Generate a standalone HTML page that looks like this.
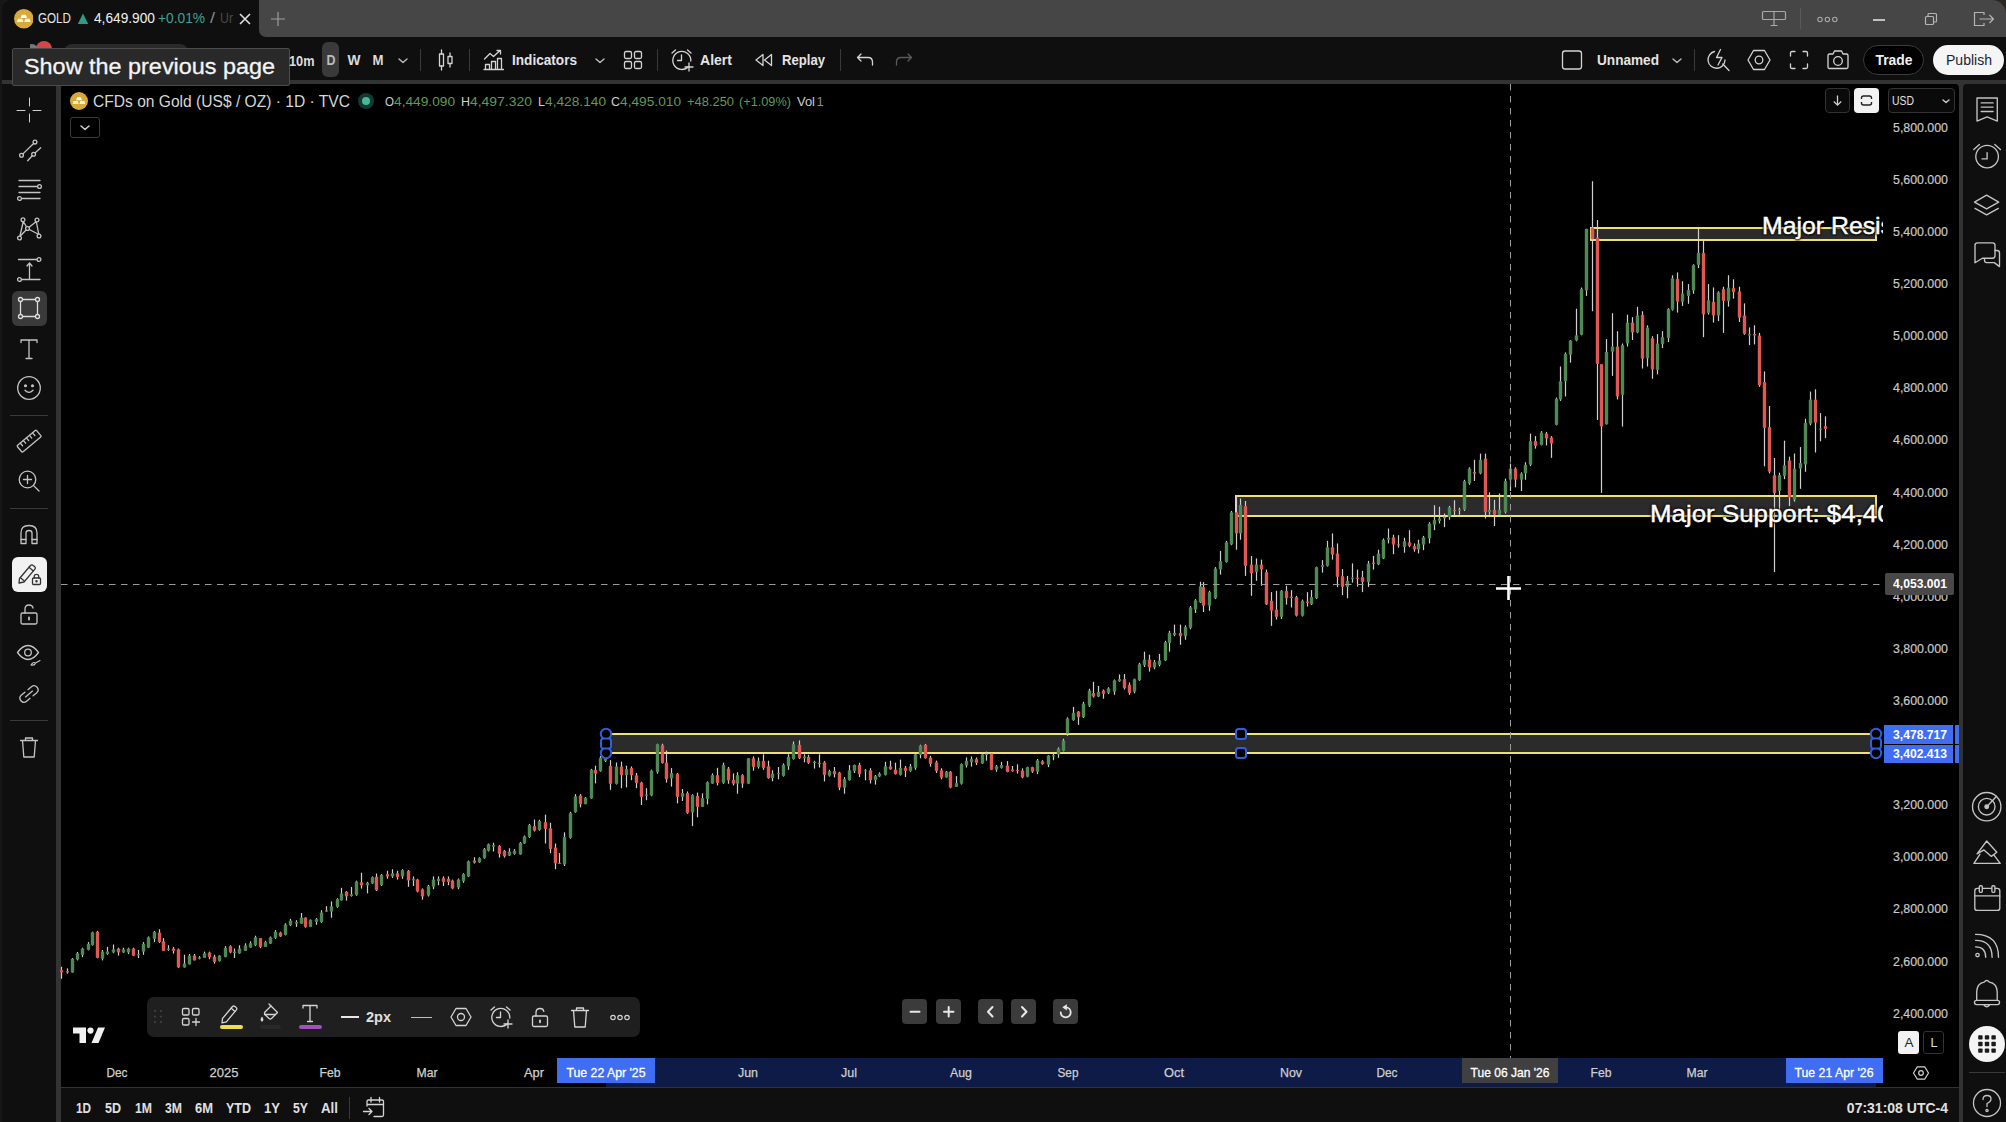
<!DOCTYPE html>
<html><head><meta charset="utf-8"><title>GOLD chart</title><style>
html,body{margin:0;padding:0;background:#000;}
body{width:2006px;height:1122px;position:relative;overflow:hidden;font-family:"Liberation Sans",sans-serif;}
div,svg,span.t{position:absolute;}
span.t{white-space:nowrap;}
</style></head><body>
<div style="left:0px;top:0px;width:2006px;height:37px;background:#464646;"></div>
<div style="left:0px;top:37px;width:2006px;height:44px;background:#0f0f0f;"></div>
<div style="left:0px;top:80px;width:2006px;height:12px;background:#333;"></div>
<div style="left:0px;top:84px;width:56px;height:1038px;background:#0f0f0f;"></div>
<div style="left:56px;top:84px;width:4.7px;height:1038px;background:#333;"></div>
<div style="left:1959px;top:84px;width:4.3px;height:1038px;background:#333;"></div>
<div style="left:1963.3px;top:84px;width:42.7px;height:1038px;background:#0f0f0f;border-radius:4px 0 0 0;"></div>
<div style="left:60.7px;top:84px;width:1898.3px;height:1004px;background:#000;border-radius:4px 4px 0 0;"></div>
<div style="left:60.7px;top:1087px;width:1898.3px;height:1px;background:#333;"></div>
<div style="left:60.7px;top:1088px;width:1898.3px;height:34px;background:#0f0f0f;"></div>
<div style="left:0px;top:0px;width:14px;height:14px;background:#181818;"></div>
<div style="left:2px;top:0px;width:257px;height:37px;background:#0f0f0f;border-radius:9px 0 0 0;"></div>
<div style="left:0px;top:0px;width:2.2px;height:1122px;background:#161616;"></div>
<div style="left:259px;top:30px;width:8px;height:7px;background:#0f0f0f;"></div>
<div style="left:259px;top:23px;width:14px;height:14px;background:#464646;border-radius:0 0 0 7px;"></div>
<div style="left:1990px;top:0px;width:16px;height:16px;background:#2a2623;"></div>
<div style="left:1978px;top:0px;width:28px;height:28px;background:#464646;border-radius:0 14px 0 0;"></div>
<div style="left:606px;top:1057.5px;width:1270px;height:29.5px;background:#0e1b46;"></div>
<div style="left:557px;top:1057.5px;width:98px;height:25.5px;background:#3f6ef2;"></div>
<div style="left:1786px;top:1057.5px;width:97px;height:25.5px;background:#3f6ef2;"></div>
<div style="left:1462px;top:1057.5px;width:96px;height:25.5px;background:#404040;"></div>
<div style="left:1591px;top:228.4px;width:285px;height:11.400000000000006px;background:#2b2b2b;"></div>
<div style="left:1591px;top:227.4px;width:285px;height:2px;background:#efe074;"></div>
<div style="left:1591px;top:238.8px;width:285px;height:2px;background:#efe074;"></div>
<div style="left:1590px;top:227.4px;width:2px;height:13.400000000000006px;background:#efe074;"></div>
<div style="left:1875px;top:227.4px;width:2px;height:13.400000000000006px;background:#efe074;"></div>
<div style="left:1236px;top:496px;width:640px;height:20px;background:#2b2b2b;"></div>
<div style="left:1236px;top:495px;width:640px;height:2px;background:#efe074;"></div>
<div style="left:1236px;top:515px;width:640px;height:2px;background:#efe074;"></div>
<div style="left:1235px;top:495px;width:2px;height:22px;background:#efe074;"></div>
<div style="left:1875px;top:495px;width:2px;height:22px;background:#efe074;"></div>
<div style="left:606px;top:734px;width:1270px;height:19px;background:#2b2b2b;"></div>
<div style="left:606px;top:733px;width:1270px;height:2px;background:#efe074;"></div>
<div style="left:606px;top:752px;width:1270px;height:2px;background:#efe074;"></div>
<svg style="left:0;top:0" width="2006" height="1122" viewBox="0 0 2006 1122" shape-rendering="auto"><path d="M61.5 966.8V978.8" stroke="#cfcfcf" stroke-width="1.2"/><rect x="59.8" y="970.0" width="3.4" height="2.4" rx="1" fill="#e05853"/><path d="M67.5 968.4V973.7" stroke="#cfcfcf" stroke-width="1.2"/><rect x="65.8" y="971.1" width="3.4" height="1.3" rx="1" fill="#e05853"/><path d="M72.5 958.0V972.7" stroke="#cfcfcf" stroke-width="1.2"/><rect x="70.8" y="958.8" width="3.4" height="13.6" rx="1" fill="#4f8a54"/><path d="M77.5 952.0V960.4" stroke="#cfcfcf" stroke-width="1.2"/><rect x="75.8" y="953.2" width="3.4" height="6.4" rx="1" fill="#4f8a54"/><path d="M82.5 947.7V957.2" stroke="#cfcfcf" stroke-width="1.2"/><rect x="80.8" y="948.5" width="3.4" height="6.4" rx="1" fill="#4f8a54"/><path d="M88.5 942.1V950.4" stroke="#cfcfcf" stroke-width="1.2"/><rect x="86.8" y="943.7" width="3.4" height="6.4" rx="1" fill="#4f8a54"/><path d="M92.5 931.7V945.6" stroke="#cfcfcf" stroke-width="1.2"/><rect x="90.8" y="932.2" width="3.4" height="13.1" rx="1" fill="#4f8a54"/><path d="M97.5 930.9V958.3" stroke="#cfcfcf" stroke-width="1.2"/><rect x="95.8" y="931.7" width="3.4" height="26.3" rx="1" fill="#e05853"/><path d="M102.5 950.0V960.4" stroke="#cfcfcf" stroke-width="1.2"/><rect x="100.8" y="951.6" width="3.4" height="7.2" rx="1" fill="#4f8a54"/><path d="M107.5 946.9V954.8" stroke="#cfcfcf" stroke-width="1.2"/><rect x="105.8" y="951.6" width="3.4" height="2.4" rx="1" fill="#4f8a54"/><path d="M113.5 944.5V953.2" stroke="#cfcfcf" stroke-width="1.2"/><rect x="111.8" y="949.3" width="3.4" height="3.2" rx="1" fill="#4f8a54"/><path d="M118.5 947.7V955.6" stroke="#cfcfcf" stroke-width="1.2"/><rect x="116.8" y="948.5" width="3.4" height="4.0" rx="1" fill="#e05853"/><path d="M123.5 947.7V952.9" stroke="#cfcfcf" stroke-width="1.2"/><rect x="121.8" y="949.3" width="3.4" height="3.2" rx="1" fill="#4f8a54"/><path d="M128.5 947.7V954.0" stroke="#cfcfcf" stroke-width="1.2"/><rect x="126.8" y="948.5" width="3.4" height="4.0" rx="1" fill="#4f8a54"/><path d="M133.5 947.7V956.1" stroke="#cfcfcf" stroke-width="1.2"/><rect x="131.8" y="948.5" width="3.4" height="7.2" rx="1" fill="#e05853"/><path d="M138.5 950.0V958.0" stroke="#cfcfcf" stroke-width="1.2"/><rect x="136.8" y="954.0" width="3.4" height="1.2" rx="1" fill="#4f8a54"/><path d="M143.5 942.1V954.8" stroke="#cfcfcf" stroke-width="1.2"/><rect x="141.8" y="943.7" width="3.4" height="8.0" rx="1" fill="#4f8a54"/><path d="M148.5 936.5V948.1" stroke="#cfcfcf" stroke-width="1.2"/><rect x="146.8" y="937.3" width="3.4" height="10.4" rx="1" fill="#4f8a54"/><path d="M154.5 930.9V942.1" stroke="#cfcfcf" stroke-width="1.2"/><rect x="152.8" y="931.7" width="3.4" height="7.2" rx="1" fill="#4f8a54"/><path d="M159.5 929.3V942.9" stroke="#cfcfcf" stroke-width="1.2"/><rect x="157.8" y="932.5" width="3.4" height="9.6" rx="1" fill="#e05853"/><path d="M163.5 938.1V950.8" stroke="#cfcfcf" stroke-width="1.2"/><rect x="161.8" y="941.3" width="3.4" height="9.6" rx="1" fill="#e05853"/><path d="M168.5 945.3V950.8" stroke="#cfcfcf" stroke-width="1.2"/><rect x="166.8" y="948.5" width="3.4" height="1.6" rx="1" fill="#4f8a54"/><path d="M173.5 946.9V953.6" stroke="#cfcfcf" stroke-width="1.2"/><rect x="171.8" y="948.5" width="3.4" height="2.4" rx="1" fill="#e05853"/><path d="M178.5 948.5V967.9" stroke="#cfcfcf" stroke-width="1.2"/><rect x="176.8" y="949.3" width="3.4" height="18.3" rx="1" fill="#e05853"/><path d="M184.5 954.8V967.6" stroke="#cfcfcf" stroke-width="1.2"/><rect x="182.8" y="963.6" width="3.4" height="4.0" rx="1" fill="#4f8a54"/><path d="M189.5 954.0V964.4" stroke="#cfcfcf" stroke-width="1.2"/><rect x="187.8" y="955.6" width="3.4" height="8.8" rx="1" fill="#4f8a54"/><path d="M194.5 954.0V960.4" stroke="#cfcfcf" stroke-width="1.2"/><rect x="192.8" y="955.6" width="3.4" height="4.8" rx="1" fill="#e05853"/><path d="M199.5 956.1V959.3" stroke="#cfcfcf" stroke-width="1.2"/><rect x="197.8" y="957.2" width="3.4" height="1.6" rx="1" fill="#4f8a54"/><path d="M204.5 951.6V958.0" stroke="#cfcfcf" stroke-width="1.2"/><rect x="202.8" y="953.2" width="3.4" height="4.8" rx="1" fill="#4f8a54"/><path d="M209.5 951.6V959.3" stroke="#cfcfcf" stroke-width="1.2"/><rect x="207.8" y="952.4" width="3.4" height="4.8" rx="1" fill="#e05853"/><path d="M214.5 954.8V963.6" stroke="#cfcfcf" stroke-width="1.2"/><rect x="212.8" y="956.4" width="3.4" height="5.6" rx="1" fill="#e05853"/><path d="M219.5 955.2V961.5" stroke="#cfcfcf" stroke-width="1.2"/><rect x="217.8" y="955.6" width="3.4" height="5.6" rx="1" fill="#4f8a54"/><path d="M225.5 946.1V957.2" stroke="#cfcfcf" stroke-width="1.2"/><rect x="223.8" y="947.7" width="3.4" height="9.6" rx="1" fill="#4f8a54"/><path d="M230.5 945.3V953.2" stroke="#cfcfcf" stroke-width="1.2"/><rect x="228.8" y="946.1" width="3.4" height="6.4" rx="1" fill="#e05853"/><path d="M234.5 948.5V958.0" stroke="#cfcfcf" stroke-width="1.2"/><rect x="232.8" y="951.6" width="3.4" height="1.6" rx="1" fill="#4f8a54"/><path d="M239.5 945.3V953.6" stroke="#cfcfcf" stroke-width="1.2"/><rect x="237.8" y="948.5" width="3.4" height="5.1" rx="1" fill="#4f8a54"/><path d="M245.5 943.3V950.8" stroke="#cfcfcf" stroke-width="1.2"/><rect x="243.8" y="945.3" width="3.4" height="5.6" rx="1" fill="#4f8a54"/><path d="M250.5 941.3V947.7" stroke="#cfcfcf" stroke-width="1.2"/><rect x="248.8" y="942.9" width="3.4" height="4.8" rx="1" fill="#4f8a54"/><path d="M255.5 935.7V946.1" stroke="#cfcfcf" stroke-width="1.2"/><rect x="253.8" y="937.3" width="3.4" height="8.0" rx="1" fill="#4f8a54"/><path d="M260.5 938.1V948.1" stroke="#cfcfcf" stroke-width="1.2"/><rect x="258.8" y="938.1" width="3.4" height="8.8" rx="1" fill="#e05853"/><path d="M265.5 940.8V946.9" stroke="#cfcfcf" stroke-width="1.2"/><rect x="263.8" y="942.1" width="3.4" height="4.8" rx="1" fill="#4f8a54"/><path d="M270.5 936.5V944.0" stroke="#cfcfcf" stroke-width="1.2"/><rect x="268.8" y="937.3" width="3.4" height="6.4" rx="1" fill="#4f8a54"/><path d="M275.5 930.1V938.9" stroke="#cfcfcf" stroke-width="1.2"/><rect x="273.8" y="931.7" width="3.4" height="6.4" rx="1" fill="#4f8a54"/><path d="M280.5 931.7V937.0" stroke="#cfcfcf" stroke-width="1.2"/><rect x="278.8" y="932.5" width="3.4" height="4.0" rx="1" fill="#e05853"/><path d="M285.5 923.3V935.4" stroke="#cfcfcf" stroke-width="1.2"/><rect x="283.8" y="924.5" width="3.4" height="10.4" rx="1" fill="#4f8a54"/><path d="M290.5 918.9V926.1" stroke="#cfcfcf" stroke-width="1.2"/><rect x="288.8" y="920.5" width="3.4" height="4.8" rx="1" fill="#4f8a54"/><path d="M296.5 920.2V926.9" stroke="#cfcfcf" stroke-width="1.2"/><rect x="294.8" y="922.1" width="3.4" height="1.6" rx="1" fill="#4f8a54"/><path d="M301.5 913.0V923.7" stroke="#cfcfcf" stroke-width="1.2"/><rect x="299.8" y="917.4" width="3.4" height="6.4" rx="1" fill="#4f8a54"/><path d="M305.5 917.4V927.7" stroke="#cfcfcf" stroke-width="1.2"/><rect x="303.8" y="917.4" width="3.4" height="9.6" rx="1" fill="#e05853"/><path d="M310.5 919.4V927.1" stroke="#cfcfcf" stroke-width="1.2"/><rect x="308.8" y="919.7" width="3.4" height="7.2" rx="1" fill="#4f8a54"/><path d="M316.5 918.1V924.8" stroke="#cfcfcf" stroke-width="1.2"/><rect x="314.8" y="918.9" width="3.4" height="3.2" rx="1" fill="#4f8a54"/><path d="M321.5 910.2V922.9" stroke="#cfcfcf" stroke-width="1.2"/><rect x="319.8" y="912.6" width="3.4" height="9.6" rx="1" fill="#4f8a54"/><path d="M326.5 906.2V911.8" stroke="#cfcfcf" stroke-width="1.2"/><rect x="324.8" y="910.2" width="3.4" height="1.6" rx="1" fill="#4f8a54"/><path d="M331.5 901.4V917.7" stroke="#cfcfcf" stroke-width="1.2"/><rect x="329.8" y="906.2" width="3.4" height="5.6" rx="1" fill="#4f8a54"/><path d="M337.5 898.2V907.8" stroke="#cfcfcf" stroke-width="1.2"/><rect x="335.8" y="899.0" width="3.4" height="8.0" rx="1" fill="#4f8a54"/><path d="M341.5 887.8V900.6" stroke="#cfcfcf" stroke-width="1.2"/><rect x="339.8" y="893.4" width="3.4" height="7.2" rx="1" fill="#4f8a54"/><path d="M346.5 891.0V900.6" stroke="#cfcfcf" stroke-width="1.2"/><rect x="344.8" y="891.8" width="3.4" height="4.8" rx="1" fill="#e05853"/><path d="M351.5 887.0V896.6" stroke="#cfcfcf" stroke-width="1.2"/><rect x="349.8" y="894.2" width="3.4" height="1.9" rx="1" fill="#4f8a54"/><path d="M356.5 880.7V895.8" stroke="#cfcfcf" stroke-width="1.2"/><rect x="354.8" y="881.5" width="3.4" height="13.6" rx="1" fill="#4f8a54"/><path d="M361.5 872.7V888.6" stroke="#cfcfcf" stroke-width="1.2"/><rect x="359.8" y="882.3" width="3.4" height="3.2" rx="1" fill="#e05853"/><path d="M367.5 881.8V893.4" stroke="#cfcfcf" stroke-width="1.2"/><rect x="365.8" y="882.7" width="3.4" height="2.7" rx="1" fill="#4f8a54"/><path d="M372.5 876.4V883.9" stroke="#cfcfcf" stroke-width="1.2"/><rect x="370.8" y="877.0" width="3.4" height="6.4" rx="1" fill="#4f8a54"/><path d="M376.5 873.5V891.0" stroke="#cfcfcf" stroke-width="1.2"/><rect x="374.8" y="876.7" width="3.4" height="13.6" rx="1" fill="#e05853"/><path d="M381.5 874.0V886.0" stroke="#cfcfcf" stroke-width="1.2"/><rect x="379.8" y="874.8" width="3.4" height="10.4" rx="1" fill="#4f8a54"/><path d="M387.5 870.8V878.8" stroke="#cfcfcf" stroke-width="1.2"/><rect x="385.8" y="874.0" width="3.4" height="2.4" rx="1" fill="#e05853"/><path d="M392.5 869.2V878.0" stroke="#cfcfcf" stroke-width="1.2"/><rect x="390.8" y="873.2" width="3.4" height="3.2" rx="1" fill="#4f8a54"/><path d="M397.5 870.8V879.6" stroke="#cfcfcf" stroke-width="1.2"/><rect x="395.8" y="873.2" width="3.4" height="4.0" rx="1" fill="#e05853"/><path d="M402.5 869.2V878.8" stroke="#cfcfcf" stroke-width="1.2"/><rect x="400.8" y="870.0" width="3.4" height="6.4" rx="1" fill="#4f8a54"/><path d="M408.5 870.0V886.8" stroke="#cfcfcf" stroke-width="1.2"/><rect x="406.8" y="870.8" width="3.4" height="9.6" rx="1" fill="#e05853"/><path d="M413.5 876.4V886.0" stroke="#cfcfcf" stroke-width="1.2"/><rect x="411.8" y="878.8" width="3.4" height="1.6" rx="1" fill="#4f8a54"/><path d="M417.5 878.8V892.4" stroke="#cfcfcf" stroke-width="1.2"/><rect x="415.8" y="879.6" width="3.4" height="12.0" rx="1" fill="#e05853"/><path d="M422.5 888.4V899.7" stroke="#cfcfcf" stroke-width="1.2"/><rect x="420.8" y="889.2" width="3.4" height="7.2" rx="1" fill="#e05853"/><path d="M428.5 884.9V896.5" stroke="#cfcfcf" stroke-width="1.2"/><rect x="426.8" y="886.0" width="3.4" height="9.6" rx="1" fill="#4f8a54"/><path d="M433.5 876.4V889.2" stroke="#cfcfcf" stroke-width="1.2"/><rect x="431.8" y="879.6" width="3.4" height="7.2" rx="1" fill="#4f8a54"/><path d="M438.5 876.4V885.2" stroke="#cfcfcf" stroke-width="1.2"/><rect x="436.8" y="878.8" width="3.4" height="2.4" rx="1" fill="#4f8a54"/><path d="M443.5 876.4V886.0" stroke="#cfcfcf" stroke-width="1.2"/><rect x="441.8" y="878.0" width="3.4" height="4.0" rx="1" fill="#e05853"/><path d="M448.5 876.4V885.2" stroke="#cfcfcf" stroke-width="1.2"/><rect x="446.8" y="878.8" width="3.4" height="3.2" rx="1" fill="#e05853"/><path d="M452.5 879.6V889.2" stroke="#cfcfcf" stroke-width="1.2"/><rect x="450.8" y="880.4" width="3.4" height="8.0" rx="1" fill="#e05853"/><path d="M458.5 878.5V889.2" stroke="#cfcfcf" stroke-width="1.2"/><rect x="456.8" y="879.6" width="3.4" height="8.0" rx="1" fill="#4f8a54"/><path d="M463.5 873.2V882.8" stroke="#cfcfcf" stroke-width="1.2"/><rect x="461.8" y="874.0" width="3.4" height="7.2" rx="1" fill="#4f8a54"/><path d="M468.5 860.5V876.9" stroke="#cfcfcf" stroke-width="1.2"/><rect x="466.8" y="861.2" width="3.4" height="15.2" rx="1" fill="#4f8a54"/><path d="M474.5 857.2V863.6" stroke="#cfcfcf" stroke-width="1.2"/><rect x="472.8" y="860.4" width="3.4" height="2.4" rx="1" fill="#e05853"/><path d="M479.5 857.3V862.8" stroke="#cfcfcf" stroke-width="1.2"/><rect x="477.8" y="858.0" width="3.4" height="4.5" rx="1" fill="#4f8a54"/><path d="M484.5 848.0V858.8" stroke="#cfcfcf" stroke-width="1.2"/><rect x="482.8" y="849.1" width="3.4" height="9.1" rx="1" fill="#4f8a54"/><path d="M488.5 843.5V851.5" stroke="#cfcfcf" stroke-width="1.2"/><rect x="486.8" y="844.3" width="3.4" height="6.4" rx="1" fill="#4f8a54"/><path d="M493.5 842.7V851.5" stroke="#cfcfcf" stroke-width="1.2"/><rect x="491.8" y="845.1" width="3.4" height="1.6" rx="1" fill="#4f8a54"/><path d="M499.5 845.1V857.6" stroke="#cfcfcf" stroke-width="1.2"/><rect x="497.8" y="845.9" width="3.4" height="8.0" rx="1" fill="#e05853"/><path d="M504.5 849.9V857.6" stroke="#cfcfcf" stroke-width="1.2"/><rect x="502.8" y="850.7" width="3.4" height="5.6" rx="1" fill="#e05853"/><path d="M509.5 848.3V856.0" stroke="#cfcfcf" stroke-width="1.2"/><rect x="507.8" y="851.5" width="3.4" height="4.0" rx="1" fill="#4f8a54"/><path d="M514.5 849.1V854.7" stroke="#cfcfcf" stroke-width="1.2"/><rect x="512.8" y="850.7" width="3.4" height="3.2" rx="1" fill="#4f8a54"/><path d="M520.5 841.9V854.7" stroke="#cfcfcf" stroke-width="1.2"/><rect x="518.8" y="842.7" width="3.4" height="11.7" rx="1" fill="#4f8a54"/><path d="M524.5 835.5V843.8" stroke="#cfcfcf" stroke-width="1.2"/><rect x="522.8" y="836.3" width="3.4" height="7.2" rx="1" fill="#4f8a54"/><path d="M529.5 823.9V837.9" stroke="#cfcfcf" stroke-width="1.2"/><rect x="527.8" y="825.1" width="3.4" height="12.0" rx="1" fill="#4f8a54"/><path d="M534.5 819.5V831.5" stroke="#cfcfcf" stroke-width="1.2"/><rect x="532.8" y="825.9" width="3.4" height="4.8" rx="1" fill="#e05853"/><path d="M539.5 819.8V830.7" stroke="#cfcfcf" stroke-width="1.2"/><rect x="537.8" y="821.1" width="3.4" height="8.8" rx="1" fill="#4f8a54"/><path d="M545.5 814.6V843.5" stroke="#cfcfcf" stroke-width="1.2"/><rect x="543.8" y="821.9" width="3.4" height="7.2" rx="1" fill="#e05853"/><path d="M550.5 822.7V853.1" stroke="#cfcfcf" stroke-width="1.2"/><rect x="548.8" y="828.3" width="3.4" height="20.9" rx="1" fill="#e05853"/><path d="M555.5 843.5V869.2" stroke="#cfcfcf" stroke-width="1.2"/><rect x="553.8" y="847.5" width="3.4" height="16.0" rx="1" fill="#e05853"/><path d="M559.5 853.1V863.6" stroke="#cfcfcf" stroke-width="1.2"/><rect x="557.8" y="862.8" width="3.4" height="1.2" rx="1" fill="#4f8a54"/><path d="M564.5 832.3V866.0" stroke="#cfcfcf" stroke-width="1.2"/><rect x="562.8" y="837.1" width="3.4" height="27.3" rx="1" fill="#4f8a54"/><path d="M570.5 811.8V838.7" stroke="#cfcfcf" stroke-width="1.2"/><rect x="568.8" y="813.0" width="3.4" height="24.9" rx="1" fill="#4f8a54"/><path d="M575.5 794.1V812.7" stroke="#cfcfcf" stroke-width="1.2"/><rect x="573.8" y="796.2" width="3.4" height="16.0" rx="1" fill="#4f8a54"/><path d="M580.5 794.1V807.4" stroke="#cfcfcf" stroke-width="1.2"/><rect x="578.8" y="795.4" width="3.4" height="8.8" rx="1" fill="#e05853"/><path d="M585.5 797.0V804.2" stroke="#cfcfcf" stroke-width="1.2"/><rect x="583.8" y="797.8" width="3.4" height="6.4" rx="1" fill="#4f8a54"/><path d="M591.5 768.9V798.9" stroke="#cfcfcf" stroke-width="1.2"/><rect x="589.8" y="769.7" width="3.4" height="28.9" rx="1" fill="#4f8a54"/><path d="M595.5 765.7V783.4" stroke="#cfcfcf" stroke-width="1.2"/><rect x="593.8" y="769.7" width="3.4" height="4.0" rx="1" fill="#e05853"/><path d="M600.5 756.1V771.7" stroke="#cfcfcf" stroke-width="1.2"/><rect x="598.8" y="757.7" width="3.4" height="13.6" rx="1" fill="#4f8a54"/><path d="M605.5 751.3V762.0" stroke="#cfcfcf" stroke-width="1.2"/><rect x="603.8" y="752.1" width="3.4" height="8.8" rx="1" fill="#4f8a54"/><path d="M610.5 760.1V789.8" stroke="#cfcfcf" stroke-width="1.2"/><rect x="608.8" y="765.7" width="3.4" height="18.4" rx="1" fill="#e05853"/><path d="M616.5 762.5V784.5" stroke="#cfcfcf" stroke-width="1.2"/><rect x="614.8" y="766.5" width="3.4" height="17.6" rx="1" fill="#4f8a54"/><path d="M621.5 761.7V788.2" stroke="#cfcfcf" stroke-width="1.2"/><rect x="619.8" y="766.5" width="3.4" height="8.8" rx="1" fill="#e05853"/><path d="M626.5 765.7V787.4" stroke="#cfcfcf" stroke-width="1.2"/><rect x="624.8" y="768.9" width="3.4" height="6.4" rx="1" fill="#4f8a54"/><path d="M631.5 766.5V780.2" stroke="#cfcfcf" stroke-width="1.2"/><rect x="629.8" y="768.1" width="3.4" height="7.2" rx="1" fill="#e05853"/><path d="M636.5 772.9V788.2" stroke="#cfcfcf" stroke-width="1.2"/><rect x="634.8" y="775.3" width="3.4" height="8.0" rx="1" fill="#e05853"/><path d="M641.5 781.8V805.0" stroke="#cfcfcf" stroke-width="1.2"/><rect x="639.8" y="782.6" width="3.4" height="14.4" rx="1" fill="#e05853"/><path d="M646.5 788.2V800.2" stroke="#cfcfcf" stroke-width="1.2"/><rect x="644.8" y="794.6" width="3.4" height="1.2" rx="1" fill="#4f8a54"/><path d="M651.5 769.7V796.2" stroke="#cfcfcf" stroke-width="1.2"/><rect x="649.8" y="770.5" width="3.4" height="24.9" rx="1" fill="#4f8a54"/><path d="M657.5 743.7V773.7" stroke="#cfcfcf" stroke-width="1.2"/><rect x="655.8" y="744.1" width="3.4" height="28.1" rx="1" fill="#4f8a54"/><path d="M662.5 743.7V763.6" stroke="#cfcfcf" stroke-width="1.2"/><rect x="660.8" y="744.9" width="3.4" height="18.4" rx="1" fill="#e05853"/><path d="M666.5 750.5V782.6" stroke="#cfcfcf" stroke-width="1.2"/><rect x="664.8" y="762.5" width="3.4" height="16.8" rx="1" fill="#e05853"/><path d="M671.5 768.1V786.6" stroke="#cfcfcf" stroke-width="1.2"/><rect x="669.8" y="772.9" width="3.4" height="5.6" rx="1" fill="#4f8a54"/><path d="M677.5 772.9V803.4" stroke="#cfcfcf" stroke-width="1.2"/><rect x="675.8" y="773.7" width="3.4" height="23.3" rx="1" fill="#e05853"/><path d="M682.5 789.0V801.0" stroke="#cfcfcf" stroke-width="1.2"/><rect x="680.8" y="793.0" width="3.4" height="4.0" rx="1" fill="#4f8a54"/><path d="M687.5 791.4V813.8" stroke="#cfcfcf" stroke-width="1.2"/><rect x="685.8" y="793.0" width="3.4" height="20.1" rx="1" fill="#e05853"/><path d="M692.5 794.2V826.1" stroke="#cfcfcf" stroke-width="1.2"/><rect x="690.8" y="795.0" width="3.4" height="17.5" rx="1" fill="#4f8a54"/><path d="M697.5 792.6V817.3" stroke="#cfcfcf" stroke-width="1.2"/><rect x="695.8" y="795.8" width="3.4" height="11.2" rx="1" fill="#e05853"/><path d="M702.5 793.4V806.9" stroke="#cfcfcf" stroke-width="1.2"/><rect x="700.8" y="798.1" width="3.4" height="8.8" rx="1" fill="#4f8a54"/><path d="M707.5 781.4V804.5" stroke="#cfcfcf" stroke-width="1.2"/><rect x="705.8" y="782.2" width="3.4" height="16.7" rx="1" fill="#4f8a54"/><path d="M712.5 773.4V783.8" stroke="#cfcfcf" stroke-width="1.2"/><rect x="710.8" y="775.0" width="3.4" height="8.8" rx="1" fill="#4f8a54"/><path d="M717.5 767.8V785.4" stroke="#cfcfcf" stroke-width="1.2"/><rect x="715.8" y="775.0" width="3.4" height="8.0" rx="1" fill="#e05853"/><path d="M723.5 762.7V783.8" stroke="#cfcfcf" stroke-width="1.2"/><rect x="721.8" y="764.7" width="3.4" height="18.3" rx="1" fill="#4f8a54"/><path d="M728.5 767.0V783.8" stroke="#cfcfcf" stroke-width="1.2"/><rect x="726.8" y="768.6" width="3.4" height="12.0" rx="1" fill="#e05853"/><path d="M733.5 773.4V785.4" stroke="#cfcfcf" stroke-width="1.2"/><rect x="731.8" y="779.8" width="3.4" height="4.0" rx="1" fill="#e05853"/><path d="M737.5 772.3V793.7" stroke="#cfcfcf" stroke-width="1.2"/><rect x="735.8" y="775.0" width="3.4" height="8.8" rx="1" fill="#4f8a54"/><path d="M742.5 774.2V787.8" stroke="#cfcfcf" stroke-width="1.2"/><rect x="740.8" y="775.0" width="3.4" height="8.8" rx="1" fill="#e05853"/><path d="M748.5 758.0V784.1" stroke="#cfcfcf" stroke-width="1.2"/><rect x="746.8" y="758.3" width="3.4" height="25.5" rx="1" fill="#4f8a54"/><path d="M753.5 756.4V770.7" stroke="#cfcfcf" stroke-width="1.2"/><rect x="751.8" y="758.3" width="3.4" height="8.8" rx="1" fill="#e05853"/><path d="M758.5 757.5V768.6" stroke="#cfcfcf" stroke-width="1.2"/><rect x="756.8" y="760.7" width="3.4" height="6.4" rx="1" fill="#4f8a54"/><path d="M763.5 754.3V769.8" stroke="#cfcfcf" stroke-width="1.2"/><rect x="761.8" y="760.7" width="3.4" height="7.2" rx="1" fill="#e05853"/><path d="M768.5 760.7V778.7" stroke="#cfcfcf" stroke-width="1.2"/><rect x="766.8" y="766.3" width="3.4" height="12.0" rx="1" fill="#e05853"/><path d="M772.5 770.2V781.4" stroke="#cfcfcf" stroke-width="1.2"/><rect x="770.8" y="773.4" width="3.4" height="4.8" rx="1" fill="#4f8a54"/><path d="M778.5 767.0V779.3" stroke="#cfcfcf" stroke-width="1.2"/><rect x="776.8" y="773.0" width="3.4" height="1.2" rx="1" fill="#4f8a54"/><path d="M783.5 763.4V776.6" stroke="#cfcfcf" stroke-width="1.2"/><rect x="781.8" y="764.7" width="3.4" height="11.2" rx="1" fill="#4f8a54"/><path d="M788.5 754.3V769.8" stroke="#cfcfcf" stroke-width="1.2"/><rect x="786.8" y="756.7" width="3.4" height="9.6" rx="1" fill="#4f8a54"/><path d="M793.5 741.5V759.6" stroke="#cfcfcf" stroke-width="1.2"/><rect x="791.8" y="743.9" width="3.4" height="15.2" rx="1" fill="#4f8a54"/><path d="M799.5 740.4V759.1" stroke="#cfcfcf" stroke-width="1.2"/><rect x="797.8" y="744.7" width="3.4" height="13.6" rx="1" fill="#e05853"/><path d="M804.5 754.3V762.3" stroke="#cfcfcf" stroke-width="1.2"/><rect x="802.8" y="756.4" width="3.4" height="1.9" rx="1" fill="#4f8a54"/><path d="M808.5 754.8V763.9" stroke="#cfcfcf" stroke-width="1.2"/><rect x="806.8" y="756.7" width="3.4" height="6.4" rx="1" fill="#e05853"/><path d="M814.5 760.7V768.6" stroke="#cfcfcf" stroke-width="1.2"/><rect x="812.8" y="761.8" width="3.4" height="1.2" rx="1" fill="#4f8a54"/><path d="M819.5 754.3V767.5" stroke="#cfcfcf" stroke-width="1.2"/><rect x="817.8" y="762.7" width="3.4" height="1.2" rx="1" fill="#e05853"/><path d="M824.5 761.1V781.4" stroke="#cfcfcf" stroke-width="1.2"/><rect x="822.8" y="762.3" width="3.4" height="12.8" rx="1" fill="#e05853"/><path d="M829.5 769.8V776.6" stroke="#cfcfcf" stroke-width="1.2"/><rect x="827.8" y="771.0" width="3.4" height="4.8" rx="1" fill="#4f8a54"/><path d="M834.5 767.0V777.4" stroke="#cfcfcf" stroke-width="1.2"/><rect x="832.8" y="771.0" width="3.4" height="3.2" rx="1" fill="#e05853"/><path d="M839.5 771.8V790.2" stroke="#cfcfcf" stroke-width="1.2"/><rect x="837.8" y="772.6" width="3.4" height="15.2" rx="1" fill="#e05853"/><path d="M844.5 777.1V793.7" stroke="#cfcfcf" stroke-width="1.2"/><rect x="842.8" y="779.0" width="3.4" height="8.8" rx="1" fill="#4f8a54"/><path d="M849.5 765.0V780.6" stroke="#cfcfcf" stroke-width="1.2"/><rect x="847.8" y="770.2" width="3.4" height="10.0" rx="1" fill="#4f8a54"/><path d="M854.5 764.7V773.0" stroke="#cfcfcf" stroke-width="1.2"/><rect x="852.8" y="764.7" width="3.4" height="6.4" rx="1" fill="#4f8a54"/><path d="M859.5 762.7V777.1" stroke="#cfcfcf" stroke-width="1.2"/><rect x="857.8" y="764.7" width="3.4" height="9.6" rx="1" fill="#e05853"/><path d="M865.5 769.1V780.3" stroke="#cfcfcf" stroke-width="1.2"/><rect x="863.8" y="770.2" width="3.4" height="1.2" rx="1" fill="#4f8a54"/><path d="M870.5 768.2V783.5" stroke="#cfcfcf" stroke-width="1.2"/><rect x="868.8" y="770.2" width="3.4" height="10.0" rx="1" fill="#e05853"/><path d="M875.5 775.0V784.6" stroke="#cfcfcf" stroke-width="1.2"/><rect x="873.8" y="775.8" width="3.4" height="4.5" rx="1" fill="#4f8a54"/><path d="M879.5 772.3V777.1" stroke="#cfcfcf" stroke-width="1.2"/><rect x="877.8" y="773.4" width="3.4" height="3.2" rx="1" fill="#4f8a54"/><path d="M885.5 761.8V775.5" stroke="#cfcfcf" stroke-width="1.2"/><rect x="883.8" y="766.3" width="3.4" height="8.8" rx="1" fill="#4f8a54"/><path d="M890.5 760.7V769.8" stroke="#cfcfcf" stroke-width="1.2"/><rect x="888.8" y="766.3" width="3.4" height="3.2" rx="1" fill="#e05853"/><path d="M895.5 762.7V774.5" stroke="#cfcfcf" stroke-width="1.2"/><rect x="893.8" y="769.4" width="3.4" height="4.8" rx="1" fill="#e05853"/><path d="M900.5 759.6V775.5" stroke="#cfcfcf" stroke-width="1.2"/><rect x="898.8" y="767.8" width="3.4" height="7.2" rx="1" fill="#4f8a54"/><path d="M905.5 765.9V777.1" stroke="#cfcfcf" stroke-width="1.2"/><rect x="903.8" y="767.8" width="3.4" height="3.2" rx="1" fill="#e05853"/><path d="M910.5 763.9V771.8" stroke="#cfcfcf" stroke-width="1.2"/><rect x="908.8" y="766.3" width="3.4" height="4.8" rx="1" fill="#4f8a54"/><path d="M915.5 753.8V769.8" stroke="#cfcfcf" stroke-width="1.2"/><rect x="913.8" y="754.3" width="3.4" height="13.6" rx="1" fill="#4f8a54"/><path d="M920.5 744.7V758.3" stroke="#cfcfcf" stroke-width="1.2"/><rect x="918.8" y="745.5" width="3.4" height="9.6" rx="1" fill="#4f8a54"/><path d="M925.5 743.9V758.6" stroke="#cfcfcf" stroke-width="1.2"/><rect x="923.8" y="744.7" width="3.4" height="13.6" rx="1" fill="#e05853"/><path d="M930.5 755.9V766.6" stroke="#cfcfcf" stroke-width="1.2"/><rect x="928.8" y="757.5" width="3.4" height="6.4" rx="1" fill="#e05853"/><path d="M936.5 760.7V773.0" stroke="#cfcfcf" stroke-width="1.2"/><rect x="934.8" y="762.3" width="3.4" height="8.8" rx="1" fill="#e05853"/><path d="M941.5 768.2V779.3" stroke="#cfcfcf" stroke-width="1.2"/><rect x="939.8" y="770.2" width="3.4" height="7.5" rx="1" fill="#e05853"/><path d="M946.5 771.0V777.7" stroke="#cfcfcf" stroke-width="1.2"/><rect x="944.8" y="771.8" width="3.4" height="5.6" rx="1" fill="#4f8a54"/><path d="M950.5 771.0V788.3" stroke="#cfcfcf" stroke-width="1.2"/><rect x="948.8" y="771.8" width="3.4" height="15.9" rx="1" fill="#e05853"/><path d="M956.5 776.1V787.0" stroke="#cfcfcf" stroke-width="1.2"/><rect x="954.8" y="783.0" width="3.4" height="4.0" rx="1" fill="#4f8a54"/><path d="M961.5 763.4V784.6" stroke="#cfcfcf" stroke-width="1.2"/><rect x="959.8" y="763.9" width="3.4" height="19.9" rx="1" fill="#4f8a54"/><path d="M966.5 757.5V767.5" stroke="#cfcfcf" stroke-width="1.2"/><rect x="964.8" y="760.7" width="3.4" height="4.8" rx="1" fill="#4f8a54"/><path d="M971.5 756.4V766.6" stroke="#cfcfcf" stroke-width="1.2"/><rect x="969.8" y="759.1" width="3.4" height="3.2" rx="1" fill="#4f8a54"/><path d="M976.5 757.5V765.0" stroke="#cfcfcf" stroke-width="1.2"/><rect x="974.8" y="759.1" width="3.4" height="4.0" rx="1" fill="#e05853"/><path d="M982.5 753.8V763.9" stroke="#cfcfcf" stroke-width="1.2"/><rect x="980.8" y="754.3" width="3.4" height="9.1" rx="1" fill="#4f8a54"/><path d="M986.5 751.6V760.7" stroke="#cfcfcf" stroke-width="1.2"/><rect x="984.8" y="753.8" width="3.4" height="1.2" rx="1" fill="#4f8a54"/><path d="M991.5 753.2V770.1" stroke="#cfcfcf" stroke-width="1.2"/><rect x="989.8" y="753.5" width="3.4" height="16.3" rx="1" fill="#e05853"/><path d="M996.5 765.0V771.8" stroke="#cfcfcf" stroke-width="1.2"/><rect x="994.8" y="766.3" width="3.4" height="3.5" rx="1" fill="#4f8a54"/><path d="M1001.5 761.8V768.6" stroke="#cfcfcf" stroke-width="1.2"/><rect x="999.8" y="765.0" width="3.4" height="2.9" rx="1" fill="#4f8a54"/><path d="M1007.5 761.1V772.3" stroke="#cfcfcf" stroke-width="1.2"/><rect x="1005.8" y="765.5" width="3.4" height="6.4" rx="1" fill="#e05853"/><path d="M1012.5 766.0V771.7" stroke="#cfcfcf" stroke-width="1.2"/><rect x="1010.8" y="769.4" width="3.4" height="1.9" rx="1" fill="#e05853"/><path d="M1017.5 764.3V773.6" stroke="#cfcfcf" stroke-width="1.2"/><rect x="1015.8" y="769.9" width="3.4" height="1.4" rx="1" fill="#e05853"/><path d="M1022.5 768.3V778.2" stroke="#cfcfcf" stroke-width="1.2"/><rect x="1020.8" y="770.6" width="3.4" height="7.0" rx="1" fill="#e05853"/><path d="M1027.5 766.7V777.3" stroke="#cfcfcf" stroke-width="1.2"/><rect x="1025.8" y="767.1" width="3.4" height="9.7" rx="1" fill="#4f8a54"/><path d="M1032.5 766.7V772.9" stroke="#cfcfcf" stroke-width="1.2"/><rect x="1030.8" y="767.1" width="3.4" height="4.6" rx="1" fill="#e05853"/><path d="M1037.5 759.0V774.1" stroke="#cfcfcf" stroke-width="1.2"/><rect x="1035.8" y="760.2" width="3.4" height="11.6" rx="1" fill="#4f8a54"/><path d="M1042.5 760.2V764.8" stroke="#cfcfcf" stroke-width="1.2"/><rect x="1040.8" y="761.3" width="3.4" height="3.0" rx="1" fill="#e05853"/><path d="M1048.5 755.1V767.1" stroke="#cfcfcf" stroke-width="1.2"/><rect x="1046.8" y="755.5" width="3.4" height="9.3" rx="1" fill="#4f8a54"/><path d="M1053.5 753.2V760.2" stroke="#cfcfcf" stroke-width="1.2"/><rect x="1051.8" y="755.1" width="3.4" height="1.4" rx="1" fill="#4f8a54"/><path d="M1058.5 747.4V757.8" stroke="#cfcfcf" stroke-width="1.2"/><rect x="1056.8" y="748.6" width="3.4" height="5.8" rx="1" fill="#4f8a54"/><path d="M1063.5 738.8V751.4" stroke="#cfcfcf" stroke-width="1.2"/><rect x="1061.8" y="740.5" width="3.4" height="10.4" rx="1" fill="#4f8a54"/><path d="M1067.5 717.3V735.8" stroke="#cfcfcf" stroke-width="1.2"/><rect x="1065.8" y="718.4" width="3.4" height="15.1" rx="1" fill="#4f8a54"/><path d="M1073.5 706.9V720.8" stroke="#cfcfcf" stroke-width="1.2"/><rect x="1071.8" y="712.7" width="3.4" height="7.6" rx="1" fill="#4f8a54"/><path d="M1078.5 711.0V724.9" stroke="#cfcfcf" stroke-width="1.2"/><rect x="1076.8" y="711.5" width="3.4" height="5.8" rx="1" fill="#e05853"/><path d="M1083.5 701.8V718.0" stroke="#cfcfcf" stroke-width="1.2"/><rect x="1081.8" y="703.4" width="3.4" height="13.9" rx="1" fill="#4f8a54"/><path d="M1089.5 688.8V706.9" stroke="#cfcfcf" stroke-width="1.2"/><rect x="1087.8" y="690.6" width="3.4" height="15.1" rx="1" fill="#4f8a54"/><path d="M1093.5 681.8V697.6" stroke="#cfcfcf" stroke-width="1.2"/><rect x="1091.8" y="693.0" width="3.4" height="3.5" rx="1" fill="#e05853"/><path d="M1098.5 686.0V697.1" stroke="#cfcfcf" stroke-width="1.2"/><rect x="1096.8" y="691.8" width="3.4" height="4.6" rx="1" fill="#4f8a54"/><path d="M1103.5 689.5V698.7" stroke="#cfcfcf" stroke-width="1.2"/><rect x="1101.8" y="690.6" width="3.4" height="3.5" rx="1" fill="#e05853"/><path d="M1108.5 687.2V694.1" stroke="#cfcfcf" stroke-width="1.2"/><rect x="1106.8" y="688.3" width="3.4" height="4.6" rx="1" fill="#4f8a54"/><path d="M1114.5 679.5V694.8" stroke="#cfcfcf" stroke-width="1.2"/><rect x="1112.8" y="680.2" width="3.4" height="11.6" rx="1" fill="#4f8a54"/><path d="M1119.5 674.4V681.8" stroke="#cfcfcf" stroke-width="1.2"/><rect x="1117.8" y="679.0" width="3.4" height="2.3" rx="1" fill="#4f8a54"/><path d="M1124.5 674.0V689.5" stroke="#cfcfcf" stroke-width="1.2"/><rect x="1122.8" y="679.0" width="3.4" height="9.3" rx="1" fill="#e05853"/><path d="M1129.5 682.5V694.8" stroke="#cfcfcf" stroke-width="1.2"/><rect x="1127.8" y="684.8" width="3.4" height="8.1" rx="1" fill="#e05853"/><path d="M1134.5 678.6V693.4" stroke="#cfcfcf" stroke-width="1.2"/><rect x="1132.8" y="679.0" width="3.4" height="12.7" rx="1" fill="#4f8a54"/><path d="M1139.5 662.8V680.9" stroke="#cfcfcf" stroke-width="1.2"/><rect x="1137.8" y="664.0" width="3.4" height="16.2" rx="1" fill="#4f8a54"/><path d="M1144.5 651.7V667.0" stroke="#cfcfcf" stroke-width="1.2"/><rect x="1142.8" y="659.4" width="3.4" height="5.8" rx="1" fill="#4f8a54"/><path d="M1149.5 654.7V671.6" stroke="#cfcfcf" stroke-width="1.2"/><rect x="1147.8" y="659.4" width="3.4" height="8.1" rx="1" fill="#e05853"/><path d="M1154.5 660.0V669.3" stroke="#cfcfcf" stroke-width="1.2"/><rect x="1152.8" y="661.7" width="3.4" height="5.8" rx="1" fill="#4f8a54"/><path d="M1159.5 654.0V666.3" stroke="#cfcfcf" stroke-width="1.2"/><rect x="1157.8" y="660.5" width="3.4" height="4.6" rx="1" fill="#4f8a54"/><path d="M1165.5 640.8V661.0" stroke="#cfcfcf" stroke-width="1.2"/><rect x="1163.8" y="642.0" width="3.4" height="18.5" rx="1" fill="#4f8a54"/><path d="M1169.5 630.8V651.7" stroke="#cfcfcf" stroke-width="1.2"/><rect x="1167.8" y="632.7" width="3.4" height="10.4" rx="1" fill="#4f8a54"/><path d="M1174.5 624.6V636.2" stroke="#cfcfcf" stroke-width="1.2"/><rect x="1172.8" y="632.7" width="3.4" height="2.3" rx="1" fill="#4f8a54"/><path d="M1180.5 624.6V644.8" stroke="#cfcfcf" stroke-width="1.2"/><rect x="1178.8" y="632.7" width="3.4" height="3.5" rx="1" fill="#e05853"/><path d="M1185.5 625.3V639.7" stroke="#cfcfcf" stroke-width="1.2"/><rect x="1183.8" y="626.9" width="3.4" height="9.3" rx="1" fill="#4f8a54"/><path d="M1190.5 606.0V629.2" stroke="#cfcfcf" stroke-width="1.2"/><rect x="1188.8" y="607.2" width="3.4" height="20.9" rx="1" fill="#4f8a54"/><path d="M1195.5 599.1V613.0" stroke="#cfcfcf" stroke-width="1.2"/><rect x="1193.8" y="600.3" width="3.4" height="9.3" rx="1" fill="#4f8a54"/><path d="M1200.5 581.7V603.0" stroke="#cfcfcf" stroke-width="1.2"/><rect x="1198.8" y="586.3" width="3.4" height="16.2" rx="1" fill="#4f8a54"/><path d="M1203.5 582.1V612.0" stroke="#cfcfcf" stroke-width="1.2"/><rect x="1201.8" y="587.1" width="3.4" height="18.7" rx="1" fill="#e05853"/><path d="M1209.5 590.8V610.8" stroke="#cfcfcf" stroke-width="1.2"/><rect x="1207.8" y="592.1" width="3.4" height="13.7" rx="1" fill="#4f8a54"/><path d="M1215.5 567.1V599.1" stroke="#cfcfcf" stroke-width="1.2"/><rect x="1213.8" y="568.4" width="3.4" height="29.9" rx="1" fill="#4f8a54"/><path d="M1220.5 550.9V574.6" stroke="#cfcfcf" stroke-width="1.2"/><rect x="1218.8" y="560.9" width="3.4" height="8.7" rx="1" fill="#4f8a54"/><path d="M1226.5 540.9V562.6" stroke="#cfcfcf" stroke-width="1.2"/><rect x="1224.8" y="542.2" width="3.4" height="20.0" rx="1" fill="#4f8a54"/><path d="M1231.5 511.0V545.2" stroke="#cfcfcf" stroke-width="1.2"/><rect x="1229.8" y="512.2" width="3.4" height="32.4" rx="1" fill="#4f8a54"/><path d="M1236.5 496.0V549.7" stroke="#cfcfcf" stroke-width="1.2"/><rect x="1234.8" y="512.2" width="3.4" height="21.2" rx="1" fill="#e05853"/><path d="M1240.5 498.5V539.7" stroke="#cfcfcf" stroke-width="1.2"/><rect x="1238.8" y="504.8" width="3.4" height="28.7" rx="1" fill="#4f8a54"/><path d="M1245.5 501.0V575.9" stroke="#cfcfcf" stroke-width="1.2"/><rect x="1243.8" y="506.0" width="3.4" height="59.9" rx="1" fill="#e05853"/><path d="M1251.5 555.9V595.8" stroke="#cfcfcf" stroke-width="1.2"/><rect x="1249.8" y="564.6" width="3.4" height="8.7" rx="1" fill="#e05853"/><path d="M1256.5 558.4V580.8" stroke="#cfcfcf" stroke-width="1.2"/><rect x="1254.8" y="564.6" width="3.4" height="7.5" rx="1" fill="#4f8a54"/><path d="M1261.5 559.6V585.8" stroke="#cfcfcf" stroke-width="1.2"/><rect x="1259.8" y="564.6" width="3.4" height="5.0" rx="1" fill="#e05853"/><path d="M1266.5 569.6V605.0" stroke="#cfcfcf" stroke-width="1.2"/><rect x="1264.8" y="572.1" width="3.4" height="32.4" rx="1" fill="#e05853"/><path d="M1271.5 592.1V625.8" stroke="#cfcfcf" stroke-width="1.2"/><rect x="1269.8" y="600.8" width="3.4" height="10.0" rx="1" fill="#e05853"/><path d="M1276.5 590.8V619.5" stroke="#cfcfcf" stroke-width="1.2"/><rect x="1274.8" y="609.5" width="3.4" height="7.5" rx="1" fill="#e05853"/><path d="M1281.5 590.1V619.0" stroke="#cfcfcf" stroke-width="1.2"/><rect x="1279.8" y="590.8" width="3.4" height="26.2" rx="1" fill="#4f8a54"/><path d="M1286.5 585.8V604.6" stroke="#cfcfcf" stroke-width="1.2"/><rect x="1284.8" y="590.8" width="3.4" height="7.5" rx="1" fill="#e05853"/><path d="M1291.5 590.1V607.5" stroke="#cfcfcf" stroke-width="1.2"/><rect x="1289.8" y="596.6" width="3.4" height="1.5" rx="1" fill="#e05853"/><path d="M1296.5 595.8V616.5" stroke="#cfcfcf" stroke-width="1.2"/><rect x="1294.8" y="597.1" width="3.4" height="18.7" rx="1" fill="#e05853"/><path d="M1302.5 599.6V616.5" stroke="#cfcfcf" stroke-width="1.2"/><rect x="1300.8" y="600.8" width="3.4" height="15.0" rx="1" fill="#4f8a54"/><path d="M1307.5 592.1V606.5" stroke="#cfcfcf" stroke-width="1.2"/><rect x="1305.8" y="601.6" width="3.4" height="1.5" rx="1" fill="#e05853"/><path d="M1311.5 590.1V605.0" stroke="#cfcfcf" stroke-width="1.2"/><rect x="1309.8" y="597.1" width="3.4" height="7.5" rx="1" fill="#4f8a54"/><path d="M1316.5 566.6V599.1" stroke="#cfcfcf" stroke-width="1.2"/><rect x="1314.8" y="567.1" width="3.4" height="31.2" rx="1" fill="#4f8a54"/><path d="M1322.5 560.1V572.6" stroke="#cfcfcf" stroke-width="1.2"/><rect x="1320.8" y="565.1" width="3.4" height="2.0" rx="1" fill="#4f8a54"/><path d="M1327.5 540.9V566.6" stroke="#cfcfcf" stroke-width="1.2"/><rect x="1325.8" y="547.2" width="3.4" height="18.7" rx="1" fill="#4f8a54"/><path d="M1332.5 533.4V559.6" stroke="#cfcfcf" stroke-width="1.2"/><rect x="1330.8" y="547.2" width="3.4" height="7.5" rx="1" fill="#e05853"/><path d="M1337.5 543.4V587.1" stroke="#cfcfcf" stroke-width="1.2"/><rect x="1335.8" y="553.4" width="3.4" height="23.7" rx="1" fill="#e05853"/><path d="M1342.5 569.1V595.1" stroke="#cfcfcf" stroke-width="1.2"/><rect x="1340.8" y="575.9" width="3.4" height="11.2" rx="1" fill="#e05853"/><path d="M1347.5 575.9V598.3" stroke="#cfcfcf" stroke-width="1.2"/><rect x="1345.8" y="580.8" width="3.4" height="6.2" rx="1" fill="#4f8a54"/><path d="M1352.5 563.4V582.6" stroke="#cfcfcf" stroke-width="1.2"/><rect x="1350.8" y="577.6" width="3.4" height="1.5" rx="1" fill="#4f8a54"/><path d="M1357.5 569.6V586.6" stroke="#cfcfcf" stroke-width="1.2"/><rect x="1355.8" y="577.6" width="3.4" height="1.5" rx="1" fill="#e05853"/><path d="M1362.5 570.9V592.1" stroke="#cfcfcf" stroke-width="1.2"/><rect x="1360.8" y="577.1" width="3.4" height="5.0" rx="1" fill="#e05853"/><path d="M1368.5 560.9V587.1" stroke="#cfcfcf" stroke-width="1.2"/><rect x="1366.8" y="563.4" width="3.4" height="18.7" rx="1" fill="#4f8a54"/><path d="M1373.5 555.9V569.6" stroke="#cfcfcf" stroke-width="1.2"/><rect x="1371.8" y="562.6" width="3.4" height="1.5" rx="1" fill="#e05853"/><path d="M1378.5 549.7V565.1" stroke="#cfcfcf" stroke-width="1.2"/><rect x="1376.8" y="553.4" width="3.4" height="11.2" rx="1" fill="#4f8a54"/><path d="M1383.5 538.4V559.1" stroke="#cfcfcf" stroke-width="1.2"/><rect x="1381.8" y="539.7" width="3.4" height="18.7" rx="1" fill="#4f8a54"/><path d="M1388.5 528.5V543.4" stroke="#cfcfcf" stroke-width="1.2"/><rect x="1386.8" y="537.7" width="3.4" height="2.0" rx="1" fill="#4f8a54"/><path d="M1393.5 534.7V554.2" stroke="#cfcfcf" stroke-width="1.2"/><rect x="1391.8" y="537.2" width="3.4" height="7.5" rx="1" fill="#e05853"/><path d="M1398.5 535.2V547.7" stroke="#cfcfcf" stroke-width="1.2"/><rect x="1396.8" y="544.2" width="3.4" height="1.2" rx="1" fill="#e05853"/><path d="M1404.5 537.7V552.7" stroke="#cfcfcf" stroke-width="1.2"/><rect x="1402.8" y="540.9" width="3.4" height="6.2" rx="1" fill="#4f8a54"/><path d="M1409.5 530.2V547.2" stroke="#cfcfcf" stroke-width="1.2"/><rect x="1407.8" y="542.2" width="3.4" height="3.7" rx="1" fill="#e05853"/><path d="M1414.5 543.4V551.7" stroke="#cfcfcf" stroke-width="1.2"/><rect x="1412.8" y="545.9" width="3.4" height="3.7" rx="1" fill="#e05853"/><path d="M1418.5 539.7V553.4" stroke="#cfcfcf" stroke-width="1.2"/><rect x="1416.8" y="543.4" width="3.4" height="6.2" rx="1" fill="#4f8a54"/><path d="M1423.5 535.9V550.2" stroke="#cfcfcf" stroke-width="1.2"/><rect x="1421.8" y="537.2" width="3.4" height="7.5" rx="1" fill="#4f8a54"/><path d="M1429.5 522.2V543.4" stroke="#cfcfcf" stroke-width="1.2"/><rect x="1427.8" y="523.5" width="3.4" height="15.0" rx="1" fill="#4f8a54"/><path d="M1434.5 505.2V530.2" stroke="#cfcfcf" stroke-width="1.2"/><rect x="1432.8" y="519.7" width="3.4" height="5.0" rx="1" fill="#4f8a54"/><path d="M1439.5 506.7V523.5" stroke="#cfcfcf" stroke-width="1.2"/><rect x="1437.8" y="518.5" width="3.4" height="2.5" rx="1" fill="#4f8a54"/><path d="M1444.5 513.5V527.2" stroke="#cfcfcf" stroke-width="1.2"/><rect x="1442.8" y="516.7" width="3.4" height="1.5" rx="1" fill="#e05853"/><path d="M1449.5 506.0V519.7" stroke="#cfcfcf" stroke-width="1.2"/><rect x="1447.8" y="507.2" width="3.4" height="10.0" rx="1" fill="#4f8a54"/><path d="M1454.5 500.3V515.2" stroke="#cfcfcf" stroke-width="1.2"/><rect x="1452.8" y="509.7" width="3.4" height="1.5" rx="1" fill="#e05853"/><path d="M1459.5 507.7V514.7" stroke="#cfcfcf" stroke-width="1.2"/><rect x="1457.8" y="509.2" width="3.4" height="1.5" rx="1" fill="#4f8a54"/><path d="M1464.5 479.8V511.0" stroke="#cfcfcf" stroke-width="1.2"/><rect x="1462.8" y="481.0" width="3.4" height="28.7" rx="1" fill="#4f8a54"/><path d="M1469.5 467.3V484.8" stroke="#cfcfcf" stroke-width="1.2"/><rect x="1467.8" y="468.6" width="3.4" height="15.0" rx="1" fill="#4f8a54"/><path d="M1474.5 459.8V481.0" stroke="#cfcfcf" stroke-width="1.2"/><rect x="1472.8" y="471.8" width="3.4" height="2.0" rx="1" fill="#e05853"/><path d="M1480.5 453.6V474.3" stroke="#cfcfcf" stroke-width="1.2"/><rect x="1478.8" y="459.8" width="3.4" height="13.7" rx="1" fill="#4f8a54"/><path d="M1485.5 453.6V518.5" stroke="#cfcfcf" stroke-width="1.2"/><rect x="1483.8" y="458.6" width="3.4" height="53.6" rx="1" fill="#e05853"/><path d="M1489.5 492.3V514.7" stroke="#cfcfcf" stroke-width="1.2"/><rect x="1487.8" y="509.7" width="3.4" height="2.5" rx="1" fill="#4f8a54"/><path d="M1494.5 499.8V526.0" stroke="#cfcfcf" stroke-width="1.2"/><rect x="1492.8" y="509.7" width="3.4" height="5.0" rx="1" fill="#e05853"/><path d="M1499.5 493.5V516.0" stroke="#cfcfcf" stroke-width="1.2"/><rect x="1497.8" y="509.7" width="3.4" height="5.0" rx="1" fill="#4f8a54"/><path d="M1505.5 478.6V513.5" stroke="#cfcfcf" stroke-width="1.2"/><rect x="1503.8" y="481.0" width="3.4" height="31.2" rx="1" fill="#4f8a54"/><path d="M1510.5 463.6V491.0" stroke="#cfcfcf" stroke-width="1.2"/><rect x="1508.8" y="468.6" width="3.4" height="11.2" rx="1" fill="#4f8a54"/><path d="M1515.5 467.3V487.3" stroke="#cfcfcf" stroke-width="1.2"/><rect x="1513.8" y="468.6" width="3.4" height="11.2" rx="1" fill="#e05853"/><path d="M1521.5 472.3V491.0" stroke="#cfcfcf" stroke-width="1.2"/><rect x="1519.8" y="473.6" width="3.4" height="6.2" rx="1" fill="#4f8a54"/><path d="M1525.5 462.3V479.8" stroke="#cfcfcf" stroke-width="1.2"/><rect x="1523.8" y="464.8" width="3.4" height="8.7" rx="1" fill="#4f8a54"/><path d="M1530.5 433.6V466.1" stroke="#cfcfcf" stroke-width="1.2"/><rect x="1528.8" y="441.1" width="3.4" height="23.7" rx="1" fill="#4f8a54"/><path d="M1535.5 436.1V448.6" stroke="#cfcfcf" stroke-width="1.2"/><rect x="1533.8" y="441.1" width="3.4" height="5.0" rx="1" fill="#e05853"/><path d="M1541.5 431.1V445.4" stroke="#cfcfcf" stroke-width="1.2"/><rect x="1539.8" y="432.4" width="3.4" height="12.5" rx="1" fill="#4f8a54"/><path d="M1546.5 431.9V445.4" stroke="#cfcfcf" stroke-width="1.2"/><rect x="1544.8" y="433.6" width="3.4" height="5.0" rx="1" fill="#e05853"/><path d="M1551.5 436.1V457.8" stroke="#cfcfcf" stroke-width="1.2"/><rect x="1549.8" y="437.4" width="3.4" height="6.2" rx="1" fill="#e05853"/><path d="M1556.5 397.5V425.4" stroke="#cfcfcf" stroke-width="1.2"/><rect x="1554.8" y="398.7" width="3.4" height="26.2" rx="1" fill="#4f8a54"/><path d="M1560.5 366.5V400.9" stroke="#cfcfcf" stroke-width="1.2"/><rect x="1558.8" y="381.2" width="3.4" height="18.2" rx="1" fill="#4f8a54"/><path d="M1565.5 352.4V396.5" stroke="#cfcfcf" stroke-width="1.2"/><rect x="1563.8" y="353.8" width="3.4" height="27.4" rx="1" fill="#4f8a54"/><path d="M1570.5 340.0V362.6" stroke="#cfcfcf" stroke-width="1.2"/><rect x="1568.8" y="340.6" width="3.4" height="14.1" rx="1" fill="#4f8a54"/><path d="M1576.5 308.8V341.2" stroke="#cfcfcf" stroke-width="1.2"/><rect x="1574.8" y="335.3" width="3.4" height="5.3" rx="1" fill="#4f8a54"/><path d="M1581.5 287.6V335.3" stroke="#cfcfcf" stroke-width="1.2"/><rect x="1579.8" y="289.1" width="3.4" height="45.6" rx="1" fill="#4f8a54"/><path d="M1586.5 228.8V295.9" stroke="#cfcfcf" stroke-width="1.2"/><rect x="1584.8" y="228.8" width="3.4" height="61.8" rx="1" fill="#4f8a54"/><path d="M1592.5 181.2V311.2" stroke="#cfcfcf" stroke-width="1.2"/><rect x="1590.8" y="227.4" width="3.4" height="11.8" rx="1" fill="#e05853"/><path d="M1597.5 220.0V420.0" stroke="#cfcfcf" stroke-width="1.2"/><rect x="1595.8" y="237.6" width="3.4" height="126.5" rx="1" fill="#e05853"/><path d="M1601.5 364.1V492.9" stroke="#cfcfcf" stroke-width="1.2"/><rect x="1599.8" y="364.1" width="3.4" height="62.4" rx="1" fill="#e05853"/><path d="M1606.5 339.1V424.4" stroke="#cfcfcf" stroke-width="1.2"/><rect x="1604.8" y="351.8" width="3.4" height="72.6" rx="1" fill="#4f8a54"/><path d="M1612.5 313.2V375.9" stroke="#cfcfcf" stroke-width="1.2"/><rect x="1610.8" y="346.5" width="3.4" height="5.3" rx="1" fill="#4f8a54"/><path d="M1617.5 331.2V399.4" stroke="#cfcfcf" stroke-width="1.2"/><rect x="1615.8" y="346.5" width="3.4" height="50.0" rx="1" fill="#e05853"/><path d="M1622.5 343.5V426.5" stroke="#cfcfcf" stroke-width="1.2"/><rect x="1620.8" y="345.0" width="3.4" height="50.0" rx="1" fill="#4f8a54"/><path d="M1627.5 314.7V346.5" stroke="#cfcfcf" stroke-width="1.2"/><rect x="1625.8" y="322.4" width="3.4" height="21.2" rx="1" fill="#4f8a54"/><path d="M1632.5 317.1V340.0" stroke="#cfcfcf" stroke-width="1.2"/><rect x="1630.8" y="322.4" width="3.4" height="10.0" rx="1" fill="#e05853"/><path d="M1637.5 306.8V333.2" stroke="#cfcfcf" stroke-width="1.2"/><rect x="1635.8" y="315.6" width="3.4" height="16.8" rx="1" fill="#4f8a54"/><path d="M1642.5 311.2V368.5" stroke="#cfcfcf" stroke-width="1.2"/><rect x="1640.8" y="314.7" width="3.4" height="44.1" rx="1" fill="#e05853"/><path d="M1647.5 325.3V366.5" stroke="#cfcfcf" stroke-width="1.2"/><rect x="1645.8" y="327.4" width="3.4" height="30.9" rx="1" fill="#4f8a54"/><path d="M1652.5 336.2V378.8" stroke="#cfcfcf" stroke-width="1.2"/><rect x="1650.8" y="338.2" width="3.4" height="31.2" rx="1" fill="#e05853"/><path d="M1657.5 334.1V374.4" stroke="#cfcfcf" stroke-width="1.2"/><rect x="1655.8" y="343.5" width="3.4" height="26.5" rx="1" fill="#4f8a54"/><path d="M1662.5 331.2V347.9" stroke="#cfcfcf" stroke-width="1.2"/><rect x="1660.8" y="337.1" width="3.4" height="7.1" rx="1" fill="#4f8a54"/><path d="M1668.5 308.2V342.1" stroke="#cfcfcf" stroke-width="1.2"/><rect x="1666.8" y="308.8" width="3.4" height="29.4" rx="1" fill="#4f8a54"/><path d="M1672.5 275.3V310.6" stroke="#cfcfcf" stroke-width="1.2"/><rect x="1670.8" y="278.2" width="3.4" height="31.5" rx="1" fill="#4f8a54"/><path d="M1677.5 272.4V312.6" stroke="#cfcfcf" stroke-width="1.2"/><rect x="1675.8" y="278.8" width="3.4" height="22.9" rx="1" fill="#e05853"/><path d="M1682.5 281.2V305.9" stroke="#cfcfcf" stroke-width="1.2"/><rect x="1680.8" y="293.5" width="3.4" height="8.2" rx="1" fill="#4f8a54"/><path d="M1688.5 284.1V303.8" stroke="#cfcfcf" stroke-width="1.2"/><rect x="1686.8" y="290.0" width="3.4" height="5.9" rx="1" fill="#4f8a54"/><path d="M1693.5 264.3V293.8" stroke="#cfcfcf" stroke-width="1.2"/><rect x="1691.8" y="264.9" width="3.4" height="25.7" rx="1" fill="#4f8a54"/><path d="M1698.5 229.0V268.1" stroke="#cfcfcf" stroke-width="1.2"/><rect x="1696.8" y="252.7" width="3.4" height="12.2" rx="1" fill="#4f8a54"/><path d="M1703.5 240.8V337.1" stroke="#cfcfcf" stroke-width="1.2"/><rect x="1701.8" y="252.7" width="3.4" height="61.9" rx="1" fill="#e05853"/><path d="M1708.5 284.1V314.6" stroke="#cfcfcf" stroke-width="1.2"/><rect x="1706.8" y="300.2" width="3.4" height="12.8" rx="1" fill="#4f8a54"/><path d="M1713.5 287.4V322.6" stroke="#cfcfcf" stroke-width="1.2"/><rect x="1711.8" y="301.8" width="3.4" height="13.8" rx="1" fill="#e05853"/><path d="M1718.5 291.2V321.0" stroke="#cfcfcf" stroke-width="1.2"/><rect x="1716.8" y="292.2" width="3.4" height="23.4" rx="1" fill="#4f8a54"/><path d="M1723.5 286.7V332.9" stroke="#cfcfcf" stroke-width="1.2"/><rect x="1721.8" y="289.0" width="3.4" height="11.9" rx="1" fill="#e05853"/><path d="M1728.5 275.2V306.6" stroke="#cfcfcf" stroke-width="1.2"/><rect x="1726.8" y="287.4" width="3.4" height="13.5" rx="1" fill="#4f8a54"/><path d="M1733.5 279.3V298.6" stroke="#cfcfcf" stroke-width="1.2"/><rect x="1731.8" y="288.0" width="3.4" height="4.2" rx="1" fill="#e05853"/><path d="M1739.5 286.7V322.0" stroke="#cfcfcf" stroke-width="1.2"/><rect x="1737.8" y="291.2" width="3.4" height="26.6" rx="1" fill="#e05853"/><path d="M1744.5 303.4V334.8" stroke="#cfcfcf" stroke-width="1.2"/><rect x="1742.8" y="315.6" width="3.4" height="18.3" rx="1" fill="#e05853"/><path d="M1749.5 327.4V345.1" stroke="#cfcfcf" stroke-width="1.2"/><rect x="1747.8" y="333.9" width="3.4" height="1.6" rx="1" fill="#4f8a54"/><path d="M1754.5 325.2V344.4" stroke="#cfcfcf" stroke-width="1.2"/><rect x="1752.8" y="333.9" width="3.4" height="1.6" rx="1" fill="#e05853"/><path d="M1759.5 332.9V386.8" stroke="#cfcfcf" stroke-width="1.2"/><rect x="1757.8" y="335.5" width="3.4" height="49.7" rx="1" fill="#e05853"/><path d="M1764.5 371.4V466.3" stroke="#cfcfcf" stroke-width="1.2"/><rect x="1762.8" y="382.0" width="3.4" height="45.9" rx="1" fill="#e05853"/><path d="M1769.5 406.0V473.4" stroke="#cfcfcf" stroke-width="1.2"/><rect x="1767.8" y="426.9" width="3.4" height="44.9" rx="1" fill="#e05853"/><path d="M1774.5 458.0V572.1" stroke="#cfcfcf" stroke-width="1.2"/><rect x="1772.8" y="475.0" width="3.4" height="18.3" rx="1" fill="#e05853"/><path d="M1779.5 472.7V510.3" stroke="#cfcfcf" stroke-width="1.2"/><rect x="1777.8" y="475.0" width="3.4" height="16.0" rx="1" fill="#4f8a54"/><path d="M1784.5 440.7V479.1" stroke="#cfcfcf" stroke-width="1.2"/><rect x="1782.8" y="465.3" width="3.4" height="10.6" rx="1" fill="#4f8a54"/><path d="M1789.5 456.7V506.1" stroke="#cfcfcf" stroke-width="1.2"/><rect x="1787.8" y="460.5" width="3.4" height="36.9" rx="1" fill="#e05853"/><path d="M1794.5 453.5V501.6" stroke="#cfcfcf" stroke-width="1.2"/><rect x="1792.8" y="468.6" width="3.4" height="31.1" rx="1" fill="#4f8a54"/><path d="M1800.5 447.1V488.8" stroke="#cfcfcf" stroke-width="1.2"/><rect x="1798.8" y="463.1" width="3.4" height="5.5" rx="1" fill="#4f8a54"/><path d="M1805.5 418.8V471.8" stroke="#cfcfcf" stroke-width="1.2"/><rect x="1803.8" y="422.7" width="3.4" height="41.7" rx="1" fill="#4f8a54"/><path d="M1810.5 391.6V425.3" stroke="#cfcfcf" stroke-width="1.2"/><rect x="1808.8" y="399.6" width="3.4" height="24.1" rx="1" fill="#4f8a54"/><path d="M1815.5 389.3V452.5" stroke="#cfcfcf" stroke-width="1.2"/><rect x="1813.8" y="399.6" width="3.4" height="23.1" rx="1" fill="#e05853"/><path d="M1820.5 413.1V441.3" stroke="#cfcfcf" stroke-width="1.2"/><rect x="1818.8" y="428.5" width="3.4" height="1.3" rx="1" fill="#4f8a54"/><path d="M1825.5 416.3V438.1" stroke="#cfcfcf" stroke-width="1.2"/><rect x="1823.8" y="425.9" width="3.4" height="3.2" rx="1" fill="#e05853"/></svg>
<svg style="left:0;top:0" width="2006" height="1122" viewBox="0 0 2006 1122"><path d="M61 584.5H1884" stroke="#9a9a9a" stroke-width="1" stroke-dasharray="6.5 5.5"/><path d="M1510.5 84V1058" stroke="#9a9a9a" stroke-width="1" stroke-dasharray="6.5 5.5"/><path d="M1508.5 576V600M1496 588.5H1521" stroke="#fff" stroke-width="2.6"/></svg>
<div style="left:1600px;top:200px;width:283px;height:340px;overflow:hidden;"><span class="t" style="left:162px;top:9.5px;font-size:24.5px;line-height:32px;color:#fff;transform:scaleX(1.013);transform-origin:0 50%;-webkit-text-stroke:0.45px #fff;text-shadow:0 0 3px #000,0 0 3px #000,0 1px 2px #000;">Major Resistance</span><span class="t" style="left:50px;top:298px;font-size:24.5px;line-height:32px;color:#fff;transform:scaleX(1.056);transform-origin:0 50%;-webkit-text-stroke:0.45px #fff;text-shadow:0 0 3px #000,0 0 3px #000,0 1px 2px #000;">Major Support: $4,400</span></div>
<svg style="left:0;top:0" width="2006" height="1122" viewBox="0 0 2006 1122"><circle cx="606" cy="734" r="5.2" fill="#000" stroke="#2f5fe0" stroke-width="2"/><circle cx="606" cy="753" r="5.2" fill="#000" stroke="#2f5fe0" stroke-width="2"/><circle cx="1876" cy="734" r="5.2" fill="#000" stroke="#2f5fe0" stroke-width="2"/><circle cx="1876" cy="753" r="5.2" fill="#000" stroke="#2f5fe0" stroke-width="2"/><rect x="601" y="738.5" width="10" height="10" rx="2.5" fill="#000" stroke="#2f5fe0" stroke-width="2"/><rect x="1871" y="738.5" width="10" height="10" rx="2.5" fill="#000" stroke="#2f5fe0" stroke-width="2"/><rect x="1236" y="729" width="10" height="10" rx="2.5" fill="#000" stroke="#2f5fe0" stroke-width="2"/><rect x="1236" y="748" width="10" height="10" rx="2.5" fill="#000" stroke="#2f5fe0" stroke-width="2"/></svg>
<div style="left:1884.5px;top:573px;width:69px;height:22px;background:#484848;border-radius:2px;z-index:5;"></div>
<div style="left:1884px;top:725px;width:69px;height:19px;background:#3f6ef2;z-index:5;"></div>
<div style="left:1955px;top:725px;width:3.5px;height:19px;background:#3f6ef2;"></div>
<div style="left:1884px;top:745px;width:69px;height:18px;background:#3f6ef2;z-index:5;"></div>
<div style="left:1955px;top:745px;width:3.5px;height:18px;background:#3f6ef2;"></div>
<svg style="left:13.8px;top:9.0px" width="19.6" height="19.6" viewBox="0 0 18 18"><circle cx="9" cy="9" r="9" fill="#d9a93c"/><path d="M7.2 5.2h3.6l1.2 3H6z" fill="#fff"/><path d="M3.6 8.9h4l1 3.1H2.6z" fill="#fff5d0"/><path d="M10.4 8.9h4l1 3.1H9.4z" fill="#fff5d0"/></svg>
<svg style="left:77px;top:12.6px" width="12" height="12" viewBox="0 0 12 12"><path d="M6 0.5L11.2 11H0.8Z" fill="#2f9c88"/></svg>
<svg style="left:238px;top:12px" width="14" height="14" viewBox="0 0 14 14"><path d="M2 2L12 12M12 2L2 12" stroke="#e0e0e0" stroke-width="1.6"/></svg>
<svg style="left:270px;top:11px" width="16" height="16" viewBox="0 0 16 16"><path d="M8 1V15M1 8H15" stroke="#9c9c9c" stroke-width="1.2"/></svg>
<svg style="left:1758px;top:6px" width="32" height="26" viewBox="0 0 32 26" fill="none" stroke="#a8a8a8" stroke-width="1.2"><rect x="4.500" y="5.500" width="23" height="8" rx="1"/><path d="M16 5.500V19.500M12.500 19.500H19.500"/></svg>
<div style="left:1800px;top:8px;width:1px;height:21px;background:#5a5a5a;"></div>
<svg style="left:1814px;top:14px" width="28" height="10" viewBox="0 0 28 10" fill="none" stroke="#a8a8a8" stroke-width="1.1"><circle cx="6" cy="5.500" r="2.200"/><circle cx="13.400" cy="5.500" r="2.200"/><circle cx="20.800" cy="5.500" r="2.200"/></svg>
<div style="left:1873px;top:19px;width:12px;height:1.5px;background:#c0c0c0;"></div>
<svg style="left:1922px;top:10px" width="18" height="18" viewBox="0 0 18 18" fill="none" stroke="#b4b4b4" stroke-width="1.2"><rect x="3.500" y="6.500" width="8" height="8" rx="1"/><path d="M6 6.500V4.500Q6 3.500 7 3.500H13.500Q14.500 3.500 14.500 4.500V11Q14.500 12 13.500 12H11.500"/></svg>
<svg style="left:1970px;top:7px" width="28" height="24" viewBox="0 0 28 24" fill="none" stroke="#b4b4b4" stroke-width="1.2"><path d="M14 8V5.500H4.500V18.500H14V16"/><path d="M9.500 12H23.500M19.500 8L23.500 12L19.500 16"/></svg>
<svg style="left:30px;top:40px" width="30" height="12" viewBox="0 0 30 12"><circle cx="14" cy="9" r="8" fill="#d84545"/><circle cx="2" cy="10" r="6" fill="#777"/></svg>
<div style="left:64px;top:44px;width:124px;height:8px;background:#2a2a2a;border-radius:8px 8px 0 0;"></div>
<div style="left:322px;top:42px;width:17px;height:35px;background:#3a3a3a;border-radius:6px;"></div>
<svg style="left:398.0px;top:57.5px" width="10" height="6.0" viewBox="0 0 10 6.0"><path d="M1 1L5.0 4.5L9 1" stroke="#bdbdbd" stroke-width="1.4" fill="none" stroke-linecap="round" stroke-linejoin="round"/></svg>
<div style="left:420px;top:49px;width:1px;height:22px;background:#3a3a3a;"></div>
<div style="left:469px;top:49px;width:1px;height:22px;background:#3a3a3a;"></div>
<div style="left:657px;top:49px;width:1px;height:22px;background:#3a3a3a;"></div>
<div style="left:840px;top:49px;width:1px;height:22px;background:#3a3a3a;"></div>
<svg style="left:595.0px;top:57.5px" width="10" height="6.0" viewBox="0 0 10 6.0"><path d="M1 1L5.0 4.5L9 1" stroke="#bdbdbd" stroke-width="1.4" fill="none" stroke-linecap="round" stroke-linejoin="round"/></svg>
<svg style="left:1672.0px;top:57.5px" width="10" height="6.0" viewBox="0 0 10 6.0"><path d="M1 1L5.0 4.5L9 1" stroke="#bdbdbd" stroke-width="1.4" fill="none" stroke-linecap="round" stroke-linejoin="round"/></svg>
<div style="left:1694px;top:49px;width:1px;height:22px;background:#3a3a3a;"></div>
<div style="left:1863px;top:45px;width:61px;height:30px;background:#000;border:1px solid #3a3a3a;border-radius:16px;box-sizing:border-box;"></div>
<div style="left:1933px;top:45px;width:71px;height:30px;background:#f5f5f5;border-radius:16px;"></div>
<div style="left:12px;top:48px;width:278px;height:38px;background:#292929;border:1px solid #4c4c4c;border-radius:2px;box-sizing:border-box;"></div>
<svg style="left:70px;top:92px" width="18" height="18" viewBox="0 0 18 18"><circle cx="9" cy="9" r="9" fill="#d9a93c"/><path d="M7.2 5.2h3.6l1.2 3H6z" fill="#fff"/><path d="M3.6 8.9h4l1 3.1H2.6z" fill="#fff5d0"/><path d="M10.4 8.9h4l1 3.1H9.4z" fill="#fff5d0"/></svg>
<svg style="left:357px;top:92px" width="18" height="18" viewBox="0 0 18 18"><circle cx="9" cy="9" r="8" fill="#143a30"/><circle cx="9" cy="9" r="4" fill="#46b89c"/></svg>
<div style="left:70px;top:116.5px;width:30px;height:21.5px;background:#000;border:1px solid #3a3a3a;border-radius:3px;box-sizing:border-box;"></div>
<svg style="left:80.0px;top:124.5px" width="10" height="6.0" viewBox="0 0 10 6.0"><path d="M1 1L5.0 4.5L9 1" stroke="#d0d0d0" stroke-width="1.5" fill="none" stroke-linecap="round" stroke-linejoin="round"/></svg>
<div style="left:1825px;top:88px;width:25px;height:25px;background:#0a0a0a;border:1px solid #333;border-radius:4px;box-sizing:border-box;"></div>
<svg style="left:1830px;top:93px" width="15" height="15" viewBox="0 0 15 15"><path d="M7.500 2.500V12M3.800 8.500L7.500 12.200L11.200 8.500" stroke="#d0d0d0" stroke-width="1.3" fill="none"/></svg>
<div style="left:1854px;top:88px;width:25px;height:25px;background:#f2f2f2;border-radius:4px;"></div>
<svg style="left:1859px;top:93px" width="15" height="15" viewBox="0 0 15 15"><path d="M2.500 6V5Q2.500 3 4.500 3H10.500Q12.500 3 12.500 5V6M2.500 9V10Q2.500 12 4.500 12H10.500Q12.500 12 12.500 10V9" stroke="#222" stroke-width="1.4" fill="none"/></svg>
<div style="left:1888px;top:88px;width:67px;height:25px;background:#0a0a0a;border:1px solid #333;border-radius:4px;box-sizing:border-box;"></div>
<svg style="left:1942.0px;top:99.0px" width="8" height="5.0" viewBox="0 0 8 5.0"><path d="M1 1L4.0 3.5L7 1" stroke="#d0d0d0" stroke-width="1.4" fill="none" stroke-linecap="round" stroke-linejoin="round"/></svg>
<div style="left:1898px;top:1031px;width:21px;height:23px;background:#f2f2f2;border-radius:3px;"></div>
<div style="left:1923px;top:1031px;width:21px;height:23px;background:#000;border:1px solid #333;border-radius:3px;box-sizing:border-box;"></div>
<div style="left:349px;top:1097px;width:1px;height:22px;background:#3a3a3a;"></div>
<div style="left:902px;top:999px;width:25px;height:25px;background:#3b3b3b;border-radius:4px;"></div>
<div style="left:936px;top:999px;width:25px;height:25px;background:#3b3b3b;border-radius:4px;"></div>
<div style="left:978px;top:999px;width:25px;height:25px;background:#3b3b3b;border-radius:4px;"></div>
<div style="left:1011px;top:999px;width:25px;height:25px;background:#3b3b3b;border-radius:4px;"></div>
<div style="left:1053px;top:999px;width:25px;height:25px;background:#3b3b3b;border-radius:4px;"></div>
<svg style="left:902px;top:999px" width="180" height="25" viewBox="0 0 180 25" fill="none" stroke="#e8e8e8" stroke-width="2" stroke-linecap="round" stroke-linejoin="round"><path d="M8.500 12.700H17.500"/><path d="M42 12.700H51.500M46.700 8V17.500"/><path d="M90.500 8L86 12.700L90.500 17.500"/><path d="M120 8L124.500 12.700L120 17.500"/><path d="M163.800 8.300A5 5 0 1 1 158.700 13.300" stroke-width="1.800"/><path d="M160.300 8.300L164.800 5.200V11.400Z" fill="#e8e8e8" stroke="none"/></svg>
<div style="left:147px;top:997px;width:493px;height:40px;background:#1f1f1f;border-radius:7px;"></div>
<div style="left:220px;top:1025px;width:23px;height:4px;background:#f0dc4e;border-radius:2px;"></div>
<div style="left:260px;top:1025px;width:21px;height:4px;background:#292929;border-radius:2px;"></div>
<div style="left:299px;top:1025px;width:23px;height:4px;background:#a24fc0;border-radius:2px;"></div>
<div style="left:341px;top:1016px;width:18px;height:2px;background:#e6e6e6;"></div>
<div style="left:411px;top:1016.5px;width:21px;height:1.2px;background:#bdbdbd;"></div>
<svg style="left:73px;top:1027px" width="32" height="17" viewBox="0 0 32 17"><path d="M0 0.500H13V16H6.500V6.500H0Z" fill="#f0f0f0"/><circle cx="17.500" cy="3.600" r="3.100" fill="#f0f0f0"/><path d="M25 0.500H32L25.500 16H18.500Z" fill="#f0f0f0"/></svg>
<div style="left:12px;top:291px;width:35px;height:35px;background:#3a3a3a;border-radius:6px;"></div>
<div style="left:12px;top:557px;width:35px;height:35px;background:#f2f2f2;border-radius:6px;"></div>
<div style="left:10px;top:414.5px;width:38px;height:1px;background:#3a3a3a;"></div>
<div style="left:10px;top:508px;width:38px;height:1px;background:#3a3a3a;"></div>
<div style="left:10px;top:720px;width:38px;height:1px;background:#3a3a3a;"></div>
<svg style="left:15.0px;top:96.0px" width="29.0" height="29.0" viewBox="0 0 29 29" fill="none" stroke="#d0d0d0" stroke-width="1.0" stroke-linecap="round" stroke-linejoin="round"><path d="M14.500 2V10M14.500 18V26M2 14.500H10M18 14.500H26"/></svg>
<svg style="left:0;top:130px" width="60" height="40" viewBox="0 130 60 40" fill="none" stroke="#c4c4c4" stroke-width="1.3" stroke-linecap="round"><path d="M22.900 153.900L33.600 143.500"/><circle cx="21.500" cy="155.200" r="1.900"/><circle cx="35" cy="142.100" r="1.900"/><path d="M27.700 160.800L32.200 155.700M35 152.900L40.700 147.800"/><circle cx="33.600" cy="154.300" r="1.900"/></svg>
<svg style="left:15.0px;top:176.5px" width="28.0" height="28.0" viewBox="0 0 28 28" fill="none" stroke="#c4c4c4" stroke-width="1.3" stroke-linecap="round" stroke-linejoin="round"><path d="M4 3.500H25M4 9.500H22.500M4 15.500H25M7 21.500H25"/><circle cx="24.500" cy="9.500" r="1.900" fill="#0f0f0f"/><circle cx="4.500" cy="21.500" r="1.900" fill="#0f0f0f"/></svg>
<svg style="left:15.0px;top:215.0px" width="28.0" height="28.0" viewBox="0 0 28 28" fill="none" stroke="#c4c4c4" stroke-width="1.3" stroke-linecap="round" stroke-linejoin="round"><path d="M4.800 21.500L8.300 6.500L12.500 13.500L21.300 6.500L23.800 19.500L12.500 13.500Z"/><circle cx="8" cy="4.800" r="1.900" fill="#0f0f0f"/><circle cx="22" cy="5" r="1.900" fill="#0f0f0f"/><circle cx="12.500" cy="13.500" r="1.900" fill="#0f0f0f"/><circle cx="4.500" cy="23" r="1.900" fill="#0f0f0f"/><circle cx="24" cy="21" r="1.900" fill="#0f0f0f"/></svg>
<svg style="left:15.0px;top:255.0px" width="28.0" height="28.0" viewBox="0 0 28 28" fill="none" stroke="#c4c4c4" stroke-width="1.3" stroke-linecap="round" stroke-linejoin="round"><path d="M3.500 4.500H22M6.500 24.500H25M14.500 24V8.500M12 11L14.500 8L17 11"/><circle cx="24" cy="4.500" r="1.900" fill="#0f0f0f"/><circle cx="4.500" cy="24.500" r="1.900" fill="#0f0f0f"/></svg>
<svg style="left:15.0px;top:294.0px" width="28.0" height="28.0" viewBox="0 0 28 28" fill="none" stroke="#dcdcdc" stroke-width="1.3" stroke-linecap="round" stroke-linejoin="round"><rect x="5.500" y="5.500" width="17" height="17"/><circle cx="5.500" cy="5.500" r="2" fill="#3a3a3a"/><circle cx="22.500" cy="5.500" r="2" fill="#3a3a3a"/><circle cx="5.500" cy="22.500" r="2" fill="#3a3a3a"/><circle cx="22.500" cy="22.500" r="2" fill="#3a3a3a"/></svg>
<svg style="left:15.0px;top:335.0px" width="28.0" height="28.0" viewBox="0 0 28 28" fill="none" stroke="#c4c4c4" stroke-width="1.3" stroke-linecap="round" stroke-linejoin="round"><path d="M6 7.500V5H22V7.500M14 5V23.500M11 23.500H17"/></svg>
<svg style="left:15.0px;top:374.0px" width="28.0" height="28.0" viewBox="0 0 28 28" fill="none" stroke="#c4c4c4" stroke-width="1.3" stroke-linecap="round" stroke-linejoin="round"><circle cx="14" cy="14" r="11.300"/><circle cx="10.500" cy="11.800" r="0.900" fill="#c4c4c4"/><circle cx="17.500" cy="11.800" r="0.900" fill="#c4c4c4"/><path d="M10 16.200Q14 20.500 18 16.200"/></svg>
<svg style="left:15.0px;top:427.0px" width="28.0" height="28.0" viewBox="0 0 28 28" fill="none" stroke="#c4c4c4" stroke-width="1.3" stroke-linecap="round" stroke-linejoin="round"><g transform="rotate(-40 14 14)"><rect x="1.500" y="10" width="25" height="8.500" rx="1"/><path d="M6 10V13.500M10 10V13.500M14 10V13.500M18 10V13.500M22 10V13.500"/></g></svg>
<svg style="left:15.0px;top:467.0px" width="28.0" height="28.0" viewBox="0 0 28 28" fill="none" stroke="#c4c4c4" stroke-width="1.3" stroke-linecap="round" stroke-linejoin="round"><circle cx="12.500" cy="12.500" r="8.300"/><path d="M18.600 18.600L24 24M8.500 12.500H16.500M12.500 8.500V16.500"/></svg>
<svg style="left:15.0px;top:520.0px" width="28.0" height="28.0" viewBox="0 0 28 28" fill="none" stroke="#c4c4c4" stroke-width="1.3" stroke-linecap="round" stroke-linejoin="round"><path d="M6 23.500V13Q6 5.500 14 5.500Q22 5.500 22 13V23.500H17V13Q17 10.500 14 10.500Q11 10.500 11 13V23.500Z"/><path d="M6 19.500H11M17 19.500H22"/></svg>
<svg style="left:15.0px;top:560.0px" width="28.0" height="28.0" viewBox="0 0 28 28" fill="none" stroke="#333" stroke-width="1.3" stroke-linecap="round" stroke-linejoin="round"><path d="M4.500 18.500L15.500 5.500Q16.800 4.300 18.200 5.400L19.800 6.700Q21 7.900 19.900 9.200L9 22L4 23Z"/><path d="M14 7.300L18.300 10.900M5.800 18L9.300 21"/><rect x="17.500" y="18" width="8" height="6.500" rx="1" fill="#f2f2f2"/><path d="M19.300 18V16.300Q19.300 14.300 21.500 14.300Q23.700 14.300 23.700 16.300V18"/><circle cx="21.500" cy="21.200" r="0.600" fill="#333"/></svg>
<svg style="left:15.0px;top:600.0px" width="28.0" height="28.0" viewBox="0 0 28 28" fill="none" stroke="#c4c4c4" stroke-width="1.3" stroke-linecap="round" stroke-linejoin="round"><rect x="6" y="13" width="16" height="11" rx="1.500"/><path d="M10 13V9Q10 5 14 5Q17.500 5 18 8"/><path d="M14 17.500V19.500" stroke-width="1.800"/></svg>
<svg style="left:15.0px;top:640.0px" width="28.0" height="28.0" viewBox="0 0 28 28" fill="none" stroke="#c4c4c4" stroke-width="1.3" stroke-linecap="round" stroke-linejoin="round"><path d="M2.500 12.500Q7.500 5.500 13 5.500Q18.500 5.500 23.500 12.500Q18.500 19.500 13 19.500Q7.500 19.500 2.500 12.500Z"/><circle cx="13" cy="12.500" r="3.300"/><path d="M16 25Q18 21.500 20.500 23Q19.800 25.800 16 25ZM20.500 23L25 20.500" stroke-width="1.100"/></svg>
<svg style="left:15.0px;top:680.0px" width="28.0" height="28.0" viewBox="0 0 28 28" fill="none" stroke="#c4c4c4" stroke-width="1.3" stroke-linecap="round" stroke-linejoin="round"><g transform="rotate(-40 14 14)"><path d="M12 10H7.500Q3.500 10 3.500 14Q3.500 18 7.500 18H12M16 10H20.500Q24.500 10 24.500 14Q24.500 18 20.500 18H16M9.500 14H18.500"/></g></svg>
<svg style="left:15.0px;top:733.0px" width="28.0" height="28.0" viewBox="0 0 28 28" fill="none" stroke="#c4c4c4" stroke-width="1.3" stroke-linecap="round" stroke-linejoin="round"><path d="M5.500 7.500H22.500M10.500 7.500V5H17.500V7.500M7.500 7.500L8.800 24H19.200L20.500 7.500"/></svg>
<div style="left:1969px;top:1072px;width:36px;height:1px;background:#3a3a3a;"></div>
<svg style="left:0;top:0" width="2006" height="1122" viewBox="0 0 2006 1122" fill="none" stroke="#c4c4c4" stroke-width="1.35" stroke-linecap="round" stroke-linejoin="round"><path d="M1977.0 98.0L1997.3 98.0L1997.3 121.1L1987.1 116.9L1977.0 121.1Z"/><path d="M1981.2 102.9L1993.1 102.9"/><path d="M1981.2 107.1L1993.1 107.1"/><path d="M1981.2 111.5L1993.1 111.5"/><circle cx="1987.1" cy="156.6" r="11.3"/><path d="M1987.1 152.6L1987.1 158.9L1982.0 158.9"/><path d="M1973.8 149.6L1979.4 144.5"/><path d="M1994.8 144.5L2000.4 149.6"/><path d="M1986.6 195.2L1998.7 202.1L1986.6 208.9L1974.5 202.1Z"/><path d="M1975.0 208.4L1986.6 214.8L1998.3 208.4"/><path d="M1975.0 262.8V245.3Q1975.0 242.8 1977.5 242.8H1992.5Q1995.0 242.8 1995.0 245.3V255.8Q1995.0 258.2 1992.5 258.2H1982.4Z"/><path d="M1995.0 250.5H1997.1Q1999.5 250.5 1999.5 253.0V266.6L1994.3 262.6H1986.6Q1984.5 262.6 1984.5 260.3V258.6"/><circle cx="1986.7" cy="806.7" r="14.2"/><circle cx="1986.7" cy="806.7" r="8.3"/><circle cx="1986.7" cy="806.7" r="1.8" fill="#c4c4c4"/><path d="M1986.7 806.7L1996.6 796.3"/><path d="M1986.7 841.0L1996.8 852.3L1991.4 856.4L1984.0 849.9L1977.1 853.8Z"/><path d="M1979.9 854.4L1973.9 863.4L2000.2 863.4L1994.0 855.1"/><rect x="1974.8" y="888.4" width="25.0" height="22.0" rx="2.5"/><path d="M1974.8 895.9L1999.8 895.9"/><rect x="1979.3" y="885.7" width="3" height="6.6" rx="1" fill="#0f0f0f"/><rect x="1991.9" y="885.7" width="3" height="6.6" rx="1" fill="#0f0f0f"/><path d="M1975.6 934.4Q1998.5 934.4 1998.5 957.3"/><path d="M1975.6 940.4Q1992.1 940.4 1992.1 957.3"/><path d="M1975.6 946.8Q1985.7 946.8 1985.7 957.3"/><circle cx="1977.5" cy="955.0" r="1.7"/><path d="M1976.7 1000.3V991.8Q1977.1 983.2 1984.2 982.1Q1986.7 978.9 1989.3 982.1Q1996.8 983.2 1997.2 991.8V1000.3"/><rect x="1974.5" y="1000.3" width="25.0" height="4.3" rx="2"/><path d="M1984.0 1005.0Q1986.7 1008.4 1989.5 1005.0"/></svg>
<svg style="left:1968.0px;top:1024.5px" width="38" height="38" viewBox="0 0 38 38"><circle cx="19" cy="19" r="18" fill="#f4f4f4"/><rect x="10.2" y="10.2" width="4.400" height="4.400" rx="0.800" fill="#1a1a1a"/><rect x="10.2" y="16.799999999999997" width="4.400" height="4.400" rx="0.800" fill="#1a1a1a"/><rect x="10.2" y="23.4" width="4.400" height="4.400" rx="0.800" fill="#1a1a1a"/><rect x="16.799999999999997" y="10.2" width="4.400" height="4.400" rx="0.800" fill="#1a1a1a"/><rect x="16.799999999999997" y="16.799999999999997" width="4.400" height="4.400" rx="0.800" fill="#1a1a1a"/><rect x="16.799999999999997" y="23.4" width="4.400" height="4.400" rx="0.800" fill="#1a1a1a"/><rect x="23.4" y="10.2" width="4.400" height="4.400" rx="0.800" fill="#1a1a1a"/><rect x="23.4" y="16.799999999999997" width="4.400" height="4.400" rx="0.800" fill="#1a1a1a"/><rect x="23.4" y="23.4" width="4.400" height="4.400" rx="0.800" fill="#1a1a1a"/></svg>
<svg style="left:1971.5px;top:1088.0px" width="30.0" height="30.0" viewBox="0 0 30 30" fill="none" stroke="#c4c4c4" stroke-width="1.3" stroke-linecap="round" stroke-linejoin="round"><circle cx="15" cy="15" r="13.500"/><path d="M11 11.500Q11 7.500 15 7.500Q19 7.500 19 11Q19 13.500 15 15.500V18.500"/><circle cx="15" cy="22.500" r="1.100"/></svg>
<svg style="left:431.0px;top:46.0px" width="28.0" height="28.0" viewBox="0 0 28 28" fill="none" stroke="#d4d4d4" stroke-width="1.3" stroke-linecap="round" stroke-linejoin="round"><rect x="8.500" y="8" width="4" height="12"/><path d="M10.500 4V8M10.500 20V24"/><rect x="17" y="10.500" width="4" height="7"/><path d="M19 7V10.500M19 17.500V21"/></svg>
<svg style="left:480.0px;top:46.0px" width="28.0" height="28.0" viewBox="0 0 28 28" fill="none" stroke="#d4d4d4" stroke-width="1.3" stroke-linecap="round" stroke-linejoin="round"><path d="M5.500 23.500V18.500H9.500V23.500M11.500 23.500V15.500H15.500V23.500M17.500 23.500V12.500H21.500V23.500M4 23.500H23.500"/><path d="M4.500 13L10 7.500L13.500 10.500L20 4.500M17 4.500H20.500V8"/></svg>
<svg style="left:618.5px;top:46.0px" width="28.0" height="28.0" viewBox="0 0 28 28" fill="none" stroke="#d4d4d4" stroke-width="1.3" stroke-linecap="round" stroke-linejoin="round"><rect x="5.500" y="5.500" width="7" height="7" rx="1.500"/><rect x="15.500" y="5.500" width="7" height="7" rx="1.500"/><rect x="5.500" y="15.500" width="7" height="7" rx="1.500"/><rect x="15.500" y="15.500" width="7" height="7" rx="1.500"/></svg>
<svg style="left:668.0px;top:46.0px" width="28.0" height="28.0" viewBox="0 0 28 28" fill="none" stroke="#d4d4d4" stroke-width="1.3" stroke-linecap="round" stroke-linejoin="round"><path d="M20.500 20.500A9 9 0 1 1 22.800 15"/><path d="M13.500 9V14.500H9.500M4 7L7.500 4M23 7L19.500 4"/><path d="M21 17V25M17 21H25"/></svg>
<svg style="left:750.0px;top:46.0px" width="28.0" height="28.0" viewBox="0 0 28 28" fill="none" stroke="#d4d4d4" stroke-width="1.3" stroke-linecap="round" stroke-linejoin="round"><path d="M13 8.500L6 14L13 19.500ZM21.500 8.500L14.500 14L21.500 19.500Z"/></svg>
<svg style="left:850.5px;top:46.0px" width="28.0" height="28.0" viewBox="0 0 28 28" fill="none" stroke="#d4d4d4" stroke-width="1.3" stroke-linecap="round" stroke-linejoin="round"><path d="M10 8L6.500 11.500L10 15M6.500 11.500H17Q21.500 11.500 21.500 16V19"/></svg>
<svg style="left:889.5px;top:46.0px" width="28.0" height="28.0" viewBox="0 0 28 28" fill="none" stroke="#5a5a5a" stroke-width="1.3" stroke-linecap="round" stroke-linejoin="round"><path d="M18 8L21.500 11.500L18 15M21.500 11.500H11Q6.500 11.500 6.500 16V19"/></svg>
<svg style="left:1558.0px;top:46.0px" width="28.0" height="28.0" viewBox="0 0 28 28" fill="none" stroke="#d4d4d4" stroke-width="1.3" stroke-linecap="round" stroke-linejoin="round"><rect x="4.500" y="5" width="19" height="18" rx="2.500"/></svg>
<svg style="left:1705.0px;top:46.0px" width="28.0" height="28.0" viewBox="0 0 28 28" fill="none" stroke="#d4d4d4" stroke-width="1.3" stroke-linecap="round" stroke-linejoin="round"><path d="M17.800 18L24 24.500"/><path d="M9.500 5.500A8.500 8.500 0 1 0 20 14"/><path d="M15.500 3.500L11.500 11.500H17L13 19"/></svg>
<svg style="left:1745.0px;top:46.0px" width="28.0" height="28.0" viewBox="0 0 28 28" fill="none" stroke="#d4d4d4" stroke-width="1.3" stroke-linecap="round" stroke-linejoin="round"><path d="M8.500 4.500H19.500L25 14L19.500 23.500H8.500L3 14Z"/><circle cx="14" cy="14" r="3.800"/></svg>
<svg style="left:1785.0px;top:46.0px" width="28.0" height="28.0" viewBox="0 0 28 28" fill="none" stroke="#d4d4d4" stroke-width="1.3" stroke-linecap="round" stroke-linejoin="round"><path d="M5.500 10V7Q5.500 5.500 7 5.500H10M18 5.500H21Q22.500 5.500 22.500 7V10M22.500 18V21Q22.500 22.500 21 22.500H18M10 22.500H7Q5.500 22.500 5.500 21V18"/></svg>
<svg style="left:1824.0px;top:46.0px" width="28.0" height="28.0" viewBox="0 0 28 28" fill="none" stroke="#d4d4d4" stroke-width="1.3" stroke-linecap="round" stroke-linejoin="round"><path d="M4 9.500Q4 8 5.500 8H9L10.500 5H17.500L19 8H22.500Q24 8 24 9.500V21Q24 22.500 22.500 22.500H5.500Q4 22.500 4 21Z"/><circle cx="14" cy="15" r="4.300"/></svg>
<svg style="left:144.0px;top:1003.5px" width="28.0" height="28.0" viewBox="0 0 28 28" fill="none" stroke="#c4c4c4" stroke-width="1.3" stroke-linecap="round" stroke-linejoin="round"><circle cx="11" cy="7.0" r="0.900" fill="#4a4a4a" stroke="none"/><circle cx="11" cy="12.5" r="0.900" fill="#4a4a4a" stroke="none"/><circle cx="11" cy="18.0" r="0.900" fill="#4a4a4a" stroke="none"/><circle cx="17" cy="7.0" r="0.900" fill="#4a4a4a" stroke="none"/><circle cx="17" cy="12.5" r="0.900" fill="#4a4a4a" stroke="none"/><circle cx="17" cy="18.0" r="0.900" fill="#4a4a4a" stroke="none"/></svg>
<svg style="left:177.0px;top:1003.0px" width="28.0" height="28.0" viewBox="0 0 28 28" fill="none" stroke="#d4d4d4" stroke-width="1.3" stroke-linecap="round" stroke-linejoin="round"><rect x="5.500" y="5.500" width="6.500" height="6.500" rx="1.300"/><rect x="15.500" y="5.500" width="6.500" height="6.500" rx="1.300"/><rect x="5.500" y="15.500" width="6.500" height="6.500" rx="1.300"/><path d="M19 15.500V22.500M15.500 19H22.500"/></svg>
<svg style="left:216.0px;top:1000.0px" width="28.0" height="28.0" viewBox="0 0 28 28" fill="none" stroke="#d4d4d4" stroke-width="1.3" stroke-linecap="round" stroke-linejoin="round"><path d="M6.500 18.500L16.500 6.500Q17.700 5.500 18.900 6.400L20.300 7.600Q21.300 8.600 20.400 9.800L10.400 21.800L6 22.800Z"/><path d="M15.200 8.200L19 11.400"/></svg>
<svg style="left:256.0px;top:1000.0px" width="28.0" height="28.0" viewBox="0 0 28 28" fill="none" stroke="#d4d4d4" stroke-width="1.3" stroke-linecap="round" stroke-linejoin="round"><path d="M9 12L15 6L21.500 12.500L15.500 18.500Q14.200 19.500 13 18.500L9 14.500Q8 13.200 9 12Z"/><path d="M15 6L13 4M8.500 14.500H19.500"/><path d="M6 17.500Q4.500 20 6 21Q7.500 20 6 17.500Z" fill="#d4d4d4"/></svg>
<svg style="left:296.0px;top:1000.0px" width="28.0" height="28.0" viewBox="0 0 28 28" fill="none" stroke="#d4d4d4" stroke-width="1.3" stroke-linecap="round" stroke-linejoin="round"><path d="M7 8V5.500H21V8M14 5.500V21.500M11.500 21.500H16.500"/></svg>
<svg style="left:447.0px;top:1003.0px" width="28.0" height="28.0" viewBox="0 0 28 28" fill="none" stroke="#d4d4d4" stroke-width="1.3" stroke-linecap="round" stroke-linejoin="round"><path d="M9 5.500H19L24 14L19 22.500H9L4 14Z"/><circle cx="14" cy="14" r="3.500"/></svg>
<svg style="left:486.5px;top:1003.0px" width="28.0" height="28.0" viewBox="0 0 28 28" fill="none" stroke="#d4d4d4" stroke-width="1.3" stroke-linecap="round" stroke-linejoin="round"><path d="M20.500 20.500A9 9 0 1 1 22.800 15"/><path d="M13.500 9V14.500H9.500M4 7L7.500 4M23 7L19.500 4"/><path d="M21 17V25M17 21H25"/></svg>
<svg style="left:526.0px;top:1003.0px" width="28.0" height="28.0" viewBox="0 0 28 28" fill="none" stroke="#d4d4d4" stroke-width="1.3" stroke-linecap="round" stroke-linejoin="round"><rect x="6.500" y="13" width="15" height="10.500" rx="1.500"/><path d="M10 13V9.500Q10 5.500 14 5.500Q17.300 5.500 17.800 8.300"/><path d="M14 17.500V19.300" stroke-width="1.800"/></svg>
<svg style="left:566.0px;top:1003.0px" width="28.0" height="28.0" viewBox="0 0 28 28" fill="none" stroke="#d4d4d4" stroke-width="1.3" stroke-linecap="round" stroke-linejoin="round"><path d="M5.500 7.500H22.500M10.500 7.500V5H17.500V7.500M7.500 7.500L8.800 24H19.200L20.500 7.500"/></svg>
<svg style="left:606.0px;top:1003.0px" width="28.0" height="28.0" viewBox="0 0 28 28" fill="none" stroke="#d4d4d4" stroke-width="1.2" stroke-linecap="round" stroke-linejoin="round"><circle cx="7" cy="14.500" r="2.200"/><circle cx="14" cy="14.500" r="2.200"/><circle cx="21" cy="14.500" r="2.200"/></svg>
<svg style="left:359.5px;top:1094.0px" width="28.0" height="28.0" viewBox="0 0 28 28" fill="none" stroke="#d4d4d4" stroke-width="1.3" stroke-linecap="round" stroke-linejoin="round"><path d="M7 12V7.500Q7 6 8.500 6H22Q23.500 6 23.500 7.500V21Q23.500 22.500 22 22.500H14M7 10.500H23.500M11 3.500V8M19.500 3.500V8"/><path d="M3.500 17.500H12M9 14.500L12 17.500L9 20.500"/></svg>
<svg style="left:1910.3px;top:1062.0px" width="22.0" height="22.0" viewBox="0 0 22 22" fill="none" stroke="#d4d4d4" stroke-width="1.2" stroke-linecap="round" stroke-linejoin="round"><path d="M7.300 4.800H14.700L18.500 11L14.700 17.200H7.300L3.500 11Z"/><circle cx="11" cy="11" r="2.300"/></svg>
<span class="t" id="t0" style="top:118.7px;font-size:13px;line-height:17px;color:#c9c9c9;font-weight:400;left:1893px;transform-origin:0 50%;transform:scaleX(0.951);-webkit-text-stroke:0.2px #c9c9c9;">5,800.000</span>
<span class="t" id="t1" style="top:170.8px;font-size:13px;line-height:17px;color:#c9c9c9;font-weight:400;left:1893px;transform-origin:0 50%;transform:scaleX(0.951);-webkit-text-stroke:0.2px #c9c9c9;">5,600.000</span>
<span class="t" id="t2" style="top:222.9px;font-size:13px;line-height:17px;color:#c9c9c9;font-weight:400;left:1893px;transform-origin:0 50%;transform:scaleX(0.951);-webkit-text-stroke:0.2px #c9c9c9;">5,400.000</span>
<span class="t" id="t3" style="top:275.0px;font-size:13px;line-height:17px;color:#c9c9c9;font-weight:400;left:1893px;transform-origin:0 50%;transform:scaleX(0.951);-webkit-text-stroke:0.2px #c9c9c9;">5,200.000</span>
<span class="t" id="t4" style="top:327.1px;font-size:13px;line-height:17px;color:#c9c9c9;font-weight:400;left:1893px;transform-origin:0 50%;transform:scaleX(0.951);-webkit-text-stroke:0.2px #c9c9c9;">5,000.000</span>
<span class="t" id="t5" style="top:379.2px;font-size:13px;line-height:17px;color:#c9c9c9;font-weight:400;left:1893px;transform-origin:0 50%;transform:scaleX(0.951);-webkit-text-stroke:0.2px #c9c9c9;">4,800.000</span>
<span class="t" id="t6" style="top:431.4px;font-size:13px;line-height:17px;color:#c9c9c9;font-weight:400;left:1893px;transform-origin:0 50%;transform:scaleX(0.951);-webkit-text-stroke:0.2px #c9c9c9;">4,600.000</span>
<span class="t" id="t7" style="top:483.5px;font-size:13px;line-height:17px;color:#c9c9c9;font-weight:400;left:1893px;transform-origin:0 50%;transform:scaleX(0.951);-webkit-text-stroke:0.2px #c9c9c9;">4,400.000</span>
<span class="t" id="t8" style="top:535.6px;font-size:13px;line-height:17px;color:#c9c9c9;font-weight:400;left:1893px;transform-origin:0 50%;transform:scaleX(0.951);-webkit-text-stroke:0.2px #c9c9c9;">4,200.000</span>
<span class="t" id="t9" style="top:587.7px;font-size:13px;line-height:17px;color:#c9c9c9;font-weight:400;left:1893px;transform-origin:0 50%;transform:scaleX(0.951);-webkit-text-stroke:0.2px #c9c9c9;">4,000.000</span>
<span class="t" id="t10" style="top:639.8px;font-size:13px;line-height:17px;color:#c9c9c9;font-weight:400;left:1893px;transform-origin:0 50%;transform:scaleX(0.951);-webkit-text-stroke:0.2px #c9c9c9;">3,800.000</span>
<span class="t" id="t11" style="top:691.9px;font-size:13px;line-height:17px;color:#c9c9c9;font-weight:400;left:1893px;transform-origin:0 50%;transform:scaleX(0.951);-webkit-text-stroke:0.2px #c9c9c9;">3,600.000</span>
<span class="t" id="t12" style="top:796.1px;font-size:13px;line-height:17px;color:#c9c9c9;font-weight:400;left:1893px;transform-origin:0 50%;transform:scaleX(0.951);-webkit-text-stroke:0.2px #c9c9c9;">3,200.000</span>
<span class="t" id="t13" style="top:848.2px;font-size:13px;line-height:17px;color:#c9c9c9;font-weight:400;left:1893px;transform-origin:0 50%;transform:scaleX(0.951);-webkit-text-stroke:0.2px #c9c9c9;">3,000.000</span>
<span class="t" id="t14" style="top:900.4px;font-size:13px;line-height:17px;color:#c9c9c9;font-weight:400;left:1893px;transform-origin:0 50%;transform:scaleX(0.951);-webkit-text-stroke:0.2px #c9c9c9;">2,800.000</span>
<span class="t" id="t15" style="top:952.5px;font-size:13px;line-height:17px;color:#c9c9c9;font-weight:400;left:1893px;transform-origin:0 50%;transform:scaleX(0.951);-webkit-text-stroke:0.2px #c9c9c9;">2,600.000</span>
<span class="t" id="t16" style="top:1004.6px;font-size:13px;line-height:17px;color:#c9c9c9;font-weight:400;left:1893px;transform-origin:0 50%;transform:scaleX(0.951);-webkit-text-stroke:0.2px #c9c9c9;">2,400.000</span>
<span class="t" id="t17" style="top:574.8px;font-size:13px;line-height:17px;color:#fff;font-weight:700;left:1893px;transform-origin:0 50%;transform:scaleX(0.934);z-index:6;">4,053.001</span>
<span class="t" id="t18" style="top:725.8px;font-size:13px;line-height:17px;color:#fff;font-weight:700;left:1893px;transform-origin:0 50%;transform:scaleX(0.934);z-index:6;">3,478.717</span>
<span class="t" id="t19" style="top:745.3px;font-size:13px;line-height:17px;color:#fff;font-weight:700;left:1893px;transform-origin:0 50%;transform:scaleX(0.934);z-index:6;">3,402.413</span>
<span class="t" id="t20" style="top:1063.7px;font-size:13px;line-height:17px;color:#cfcfcf;font-weight:400;left:117px;transform-origin:50% 50%;transform:translateX(-50%) scaleX(0.908);-webkit-text-stroke:0.25px #cfcfcf;">Dec</span>
<span class="t" id="t21" style="top:1063.7px;font-size:13px;line-height:17px;color:#cfcfcf;font-weight:400;left:224px;transform-origin:50% 50%;transform:translateX(-50%);-webkit-text-stroke:0.25px #cfcfcf;">2025</span>
<span class="t" id="t22" style="top:1063.7px;font-size:13px;line-height:17px;color:#cfcfcf;font-weight:400;left:330px;transform-origin:50% 50%;transform:translateX(-50%) scaleX(0.937);-webkit-text-stroke:0.25px #cfcfcf;">Feb</span>
<span class="t" id="t23" style="top:1063.7px;font-size:13px;line-height:17px;color:#cfcfcf;font-weight:400;left:427px;transform-origin:50% 50%;transform:translateX(-50%) scaleX(0.938);-webkit-text-stroke:0.25px #cfcfcf;">Mar</span>
<span class="t" id="t24" style="top:1063.7px;font-size:13px;line-height:17px;color:#cfcfcf;font-weight:400;left:534px;transform-origin:50% 50%;transform:translateX(-50%) scaleX(0.988);-webkit-text-stroke:0.25px #cfcfcf;">Apr</span>
<span class="t" id="t25" style="top:1063.7px;font-size:13px;line-height:17px;color:#cfcfcf;font-weight:400;left:748px;transform-origin:50% 50%;transform:translateX(-50%) scaleX(0.954);-webkit-text-stroke:0.25px #cfcfcf;">Jun</span>
<span class="t" id="t26" style="top:1063.7px;font-size:13px;line-height:17px;color:#cfcfcf;font-weight:400;left:849px;transform-origin:50% 50%;transform:translateX(-50%) scaleX(0.962);-webkit-text-stroke:0.25px #cfcfcf;">Jul</span>
<span class="t" id="t27" style="top:1063.7px;font-size:13px;line-height:17px;color:#cfcfcf;font-weight:400;left:961px;transform-origin:50% 50%;transform:translateX(-50%) scaleX(0.951);-webkit-text-stroke:0.25px #cfcfcf;">Aug</span>
<span class="t" id="t28" style="top:1063.7px;font-size:13px;line-height:17px;color:#cfcfcf;font-weight:400;left:1068px;transform-origin:50% 50%;transform:translateX(-50%) scaleX(0.907);-webkit-text-stroke:0.25px #cfcfcf;">Sep</span>
<span class="t" id="t29" style="top:1063.7px;font-size:13px;line-height:17px;color:#cfcfcf;font-weight:400;left:1174px;transform-origin:50% 50%;transform:translateX(-50%) scaleX(0.988);-webkit-text-stroke:0.25px #cfcfcf;">Oct</span>
<span class="t" id="t30" style="top:1063.7px;font-size:13px;line-height:17px;color:#cfcfcf;font-weight:400;left:1291px;transform-origin:50% 50%;transform:translateX(-50%) scaleX(0.951);-webkit-text-stroke:0.25px #cfcfcf;">Nov</span>
<span class="t" id="t31" style="top:1063.7px;font-size:13px;line-height:17px;color:#cfcfcf;font-weight:400;left:1387px;transform-origin:50% 50%;transform:translateX(-50%) scaleX(0.908);-webkit-text-stroke:0.25px #cfcfcf;">Dec</span>
<span class="t" id="t32" style="top:1063.7px;font-size:13px;line-height:17px;color:#cfcfcf;font-weight:400;left:1601px;transform-origin:50% 50%;transform:translateX(-50%) scaleX(0.937);-webkit-text-stroke:0.25px #cfcfcf;">Feb</span>
<span class="t" id="t33" style="top:1063.7px;font-size:13px;line-height:17px;color:#cfcfcf;font-weight:400;left:1697px;transform-origin:50% 50%;transform:translateX(-50%) scaleX(0.938);-webkit-text-stroke:0.25px #cfcfcf;">Mar</span>
<span class="t" id="t34" style="top:1063.7px;font-size:13px;line-height:17px;color:#fff;font-weight:400;left:605.5px;transform-origin:50% 50%;transform:translateX(-50%) scaleX(0.944);-webkit-text-stroke:0.3px #fff;">Tue 22 Apr '25</span>
<span class="t" id="t35" style="top:1063.7px;font-size:13px;line-height:17px;color:#fff;font-weight:400;left:1510px;transform-origin:50% 50%;transform:translateX(-50%) scaleX(0.928);-webkit-text-stroke:0.3px #fff;">Tue 06 Jan '26</span>
<span class="t" id="t36" style="top:1063.7px;font-size:13px;line-height:17px;color:#fff;font-weight:400;left:1834px;transform-origin:50% 50%;transform:translateX(-50%) scaleX(0.944);-webkit-text-stroke:0.3px #fff;">Tue 21 Apr '26</span>
<span class="t" id="t37" style="top:8.6px;font-size:14px;line-height:18px;color:#e6e6e6;font-weight:400;left:38px;transform-origin:0 50%;transform:scaleX(0.831);">GOLD</span>
<span class="t" id="t38" style="top:8.8px;font-size:14px;line-height:18px;color:#f0f0f0;font-weight:400;left:94px;transform-origin:0 50%;transform:scaleX(0.979);">4,649.900</span>
<span class="t" id="t39" style="top:8.8px;font-size:14px;line-height:18px;color:#3aa38f;font-weight:400;left:158px;transform-origin:0 50%;transform:scaleX(0.982);">+0.01%</span>
<span class="t" id="t40" style="top:8.8px;font-size:14px;line-height:18px;color:#8a8a8a;font-weight:400;left:210px;transform-origin:0 50%;transform:scaleX(1.285);">/</span>
<span class="t" id="t41" style="top:8.8px;font-size:14px;line-height:18px;color:#4a4a4a;font-weight:400;left:220px;transform-origin:0 50%;transform:scaleX(0.879);">Ur</span>
<span class="t" id="t42" style="top:51.5px;font-size:14px;line-height:18px;color:#dcdcdc;font-weight:700;left:288.5px;transform-origin:0 50%;transform:scaleX(0.910);">10m</span>
<span class="t" id="t43" style="top:51.0px;font-size:14px;line-height:18px;color:#bcbcbc;font-weight:700;left:330.5px;transform-origin:50% 50%;transform:translateX(-50%) scaleX(0.889);">D</span>
<span class="t" id="t44" style="top:51.0px;font-size:14px;line-height:18px;color:#dcdcdc;font-weight:700;left:354px;transform-origin:50% 50%;transform:translateX(-50%) scaleX(0.983);">W</span>
<span class="t" id="t45" style="top:51.0px;font-size:14px;line-height:18px;color:#dcdcdc;font-weight:700;left:378px;transform-origin:50% 50%;transform:translateX(-50%) scaleX(0.942);">M</span>
<span class="t" id="t46" style="top:50.5px;font-size:14.5px;line-height:19px;color:#e4e4e4;font-weight:700;left:512px;transform-origin:0 50%;transform:scaleX(0.938);">Indicators</span>
<span class="t" id="t47" style="top:50.5px;font-size:14.5px;line-height:19px;color:#e4e4e4;font-weight:700;left:700px;transform-origin:0 50%;transform:scaleX(0.968);">Alert</span>
<span class="t" id="t48" style="top:50.5px;font-size:14.5px;line-height:19px;color:#e4e4e4;font-weight:700;left:782px;transform-origin:0 50%;transform:scaleX(0.904);">Replay</span>
<span class="t" id="t49" style="top:50.5px;font-size:14.5px;line-height:19px;color:#e4e4e4;font-weight:700;left:1597px;transform-origin:0 50%;transform:scaleX(0.938);">Unnamed</span>
<span class="t" id="t50" style="top:50.0px;font-size:15px;line-height:20px;color:#f2f2f2;font-weight:700;left:1893.5px;transform-origin:50% 50%;transform:translateX(-50%) scaleX(0.924);">Trade</span>
<span class="t" id="t51" style="top:50.0px;font-size:15px;line-height:20px;color:#1a2238;font-weight:400;left:1968.5px;transform-origin:50% 50%;transform:translateX(-50%) scaleX(0.935);">Publish</span>
<span class="t" id="t52" style="top:52.0px;font-size:22.5px;line-height:29px;color:#f4f4f4;font-weight:400;left:24px;transform-origin:0 50%;transform:scaleX(1.040);-webkit-text-stroke:0.3px #f4f4f4;">Show the previous page</span>
<span class="t" id="t53" style="top:91.0px;font-size:16px;line-height:21px;color:#d6d6d6;font-weight:400;left:93px;transform-origin:0 50%;transform:scaleX(0.974);">CFDs on Gold (US$ / OZ) · 1D · TVC</span>
<span class="t" id="t54" style="top:93.0px;font-size:13px;line-height:17px;color:#cfcfcf;font-weight:400;left:385px;transform-origin:0 50%;transform:scaleX(0.889);">O</span>
<span class="t" id="t55" style="top:93.0px;font-size:13px;line-height:17px;color:#5f9a58;font-weight:400;left:394px;transform-origin:0 50%;transform:scaleX(1.055);">4,449.090</span>
<span class="t" id="t56" style="top:93.0px;font-size:13px;line-height:17px;color:#cfcfcf;font-weight:400;left:461px;transform-origin:0 50%;transform:scaleX(0.958);">H</span>
<span class="t" id="t57" style="top:93.0px;font-size:13px;line-height:17px;color:#5f9a58;font-weight:400;left:470px;transform-origin:0 50%;transform:scaleX(1.072);">4,497.320</span>
<span class="t" id="t58" style="top:93.0px;font-size:13px;line-height:17px;color:#cfcfcf;font-weight:400;left:538px;transform-origin:0 50%;transform:scaleX(0.968);">L</span>
<span class="t" id="t59" style="top:93.0px;font-size:13px;line-height:17px;color:#5f9a58;font-weight:400;left:545px;transform-origin:0 50%;transform:scaleX(1.055);">4,428.140</span>
<span class="t" id="t60" style="top:93.0px;font-size:13px;line-height:17px;color:#cfcfcf;font-weight:400;left:611px;transform-origin:0 50%;transform:scaleX(0.958);">C</span>
<span class="t" id="t61" style="top:93.0px;font-size:13px;line-height:17px;color:#5f9a58;font-weight:400;left:620px;transform-origin:0 50%;transform:scaleX(1.055);">4,495.010</span>
<span class="t" id="t62" style="top:93.0px;font-size:13px;line-height:17px;color:#5f9a58;font-weight:400;left:687px;transform-origin:0 50%;transform:scaleX(0.992);">+48.250</span>
<span class="t" id="t63" style="top:93.0px;font-size:13px;line-height:17px;color:#5f9a58;font-weight:400;left:739px;transform-origin:0 50%;transform:scaleX(0.979);">(+1.09%)</span>
<span class="t" id="t64" style="top:93.0px;font-size:13px;line-height:17px;color:#cfcfcf;font-weight:400;left:797px;transform-origin:0 50%;transform:scaleX(0.996);">Vol</span>
<span class="t" id="t65" style="top:93.0px;font-size:13px;line-height:17px;color:#8a8a8a;font-weight:400;left:816.5px;transform-origin:0 50%;">1</span>
<span class="t" id="t66" style="top:93.0px;font-size:12.5px;line-height:16px;color:#e0e0e0;font-weight:400;left:1892px;transform-origin:0 50%;transform:scaleX(0.833);">USD</span>
<span class="t" id="t67" style="top:1035.0px;font-size:12.5px;line-height:16px;color:#222;font-weight:400;left:1908.5px;transform-origin:50% 50%;transform:translateX(-50%) scaleX(1.079);">A</span>
<span class="t" id="t68" style="top:1035.0px;font-size:12.5px;line-height:16px;color:#e0e0e0;font-weight:400;left:1933.5px;transform-origin:50% 50%;transform:translateX(-50%) scaleX(1.007);">L</span>
<span class="t" id="t69" style="top:1099.0px;font-size:14px;line-height:18px;color:#e0e0e0;font-weight:700;left:76px;transform-origin:0 50%;transform:scaleX(0.838);">1D</span>
<span class="t" id="t70" style="top:1099.0px;font-size:14px;line-height:18px;color:#e0e0e0;font-weight:700;left:105px;transform-origin:0 50%;transform:scaleX(0.894);">5D</span>
<span class="t" id="t71" style="top:1099.0px;font-size:14px;line-height:18px;color:#e0e0e0;font-weight:700;left:135px;transform-origin:0 50%;transform:scaleX(0.874);">1M</span>
<span class="t" id="t72" style="top:1099.0px;font-size:14px;line-height:18px;color:#e0e0e0;font-weight:700;left:165px;transform-origin:0 50%;transform:scaleX(0.874);">3M</span>
<span class="t" id="t73" style="top:1099.0px;font-size:14px;line-height:18px;color:#e0e0e0;font-weight:700;left:195px;transform-origin:0 50%;transform:scaleX(0.925);">6M</span>
<span class="t" id="t74" style="top:1099.0px;font-size:14px;line-height:18px;color:#e0e0e0;font-weight:700;left:226px;transform-origin:0 50%;transform:scaleX(0.893);">YTD</span>
<span class="t" id="t75" style="top:1099.0px;font-size:14px;line-height:18px;color:#e0e0e0;font-weight:700;left:264px;transform-origin:0 50%;transform:scaleX(0.934);">1Y</span>
<span class="t" id="t76" style="top:1099.0px;font-size:14px;line-height:18px;color:#e0e0e0;font-weight:700;left:293px;transform-origin:0 50%;transform:scaleX(0.876);">5Y</span>
<span class="t" id="t77" style="top:1099.0px;font-size:14px;line-height:18px;color:#e0e0e0;font-weight:700;left:321px;transform-origin:0 50%;transform:scaleX(0.950);">All</span>
<span class="t" id="t78" style="top:1099.0px;font-size:14px;line-height:18px;color:#e0e0e0;font-weight:700;right:58px;transform-origin:100% 50%;">07:31:08 UTC-4</span>
<span class="t" id="t79" style="top:1007.0px;font-size:15px;line-height:20px;color:#e0e0e0;font-weight:700;left:366px;transform-origin:0 50%;transform:scaleX(0.967);">2px</span>
</body></html>
